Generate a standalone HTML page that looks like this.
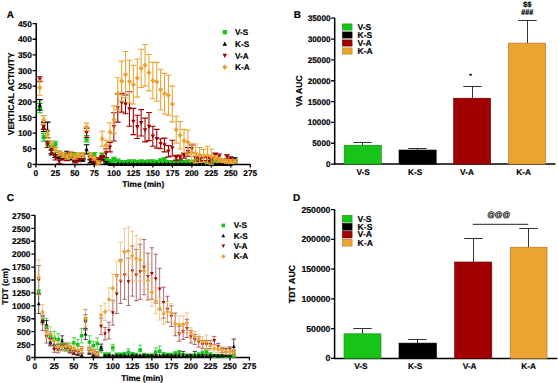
<!DOCTYPE html><html><head><meta charset="utf-8"><style>html,body{margin:0;padding:0;background:#fff;overflow:hidden;width:558px;height:383px;}svg{display:block;}</style></head><body>
<svg width="558" height="383" viewBox="0 0 558 383" style="text-rendering:geometricPrecision">
<rect width="558" height="383" fill="#ffffff"/>
<path d="M36.2 23.09V165.15" stroke="#000" stroke-width="1.5" fill="none"/>
<path d="M35.45 164.4H250.79" stroke="#000" stroke-width="1.5" fill="none"/>
<text x="31.8" y="167.6" font-size="8.3" text-anchor="end" font-family="Liberation Sans, sans-serif" stroke="#000" stroke-width="0.18"  font-weight="bold">0</text>
<text x="31.8" y="151.95" font-size="8.3" text-anchor="end" font-family="Liberation Sans, sans-serif" stroke="#000" stroke-width="0.18"  font-weight="bold">50</text>
<text x="31.8" y="136.31" font-size="8.3" text-anchor="end" font-family="Liberation Sans, sans-serif" stroke="#000" stroke-width="0.18"  font-weight="bold">100</text>
<text x="31.8" y="120.67" font-size="8.3" text-anchor="end" font-family="Liberation Sans, sans-serif" stroke="#000" stroke-width="0.18"  font-weight="bold">150</text>
<text x="31.8" y="105.02" font-size="8.3" text-anchor="end" font-family="Liberation Sans, sans-serif" stroke="#000" stroke-width="0.18"  font-weight="bold">200</text>
<text x="31.8" y="89.38" font-size="8.3" text-anchor="end" font-family="Liberation Sans, sans-serif" stroke="#000" stroke-width="0.18"  font-weight="bold">250</text>
<text x="31.8" y="73.73" font-size="8.3" text-anchor="end" font-family="Liberation Sans, sans-serif" stroke="#000" stroke-width="0.18"  font-weight="bold">300</text>
<text x="31.8" y="58.09" font-size="8.3" text-anchor="end" font-family="Liberation Sans, sans-serif" stroke="#000" stroke-width="0.18"  font-weight="bold">350</text>
<text x="31.8" y="42.44" font-size="8.3" text-anchor="end" font-family="Liberation Sans, sans-serif" stroke="#000" stroke-width="0.18"  font-weight="bold">400</text>
<text x="31.8" y="26.79" font-size="8.3" text-anchor="end" font-family="Liberation Sans, sans-serif" stroke="#000" stroke-width="0.18"  font-weight="bold">450</text>
<text x="35.9" y="176" font-size="8.3" text-anchor="middle" font-family="Liberation Sans, sans-serif" stroke="#000" stroke-width="0.18"  font-weight="bold">0</text>
<text x="55.39" y="176" font-size="8.3" text-anchor="middle" font-family="Liberation Sans, sans-serif" stroke="#000" stroke-width="0.18"  font-weight="bold">25</text>
<text x="74.88" y="176" font-size="8.3" text-anchor="middle" font-family="Liberation Sans, sans-serif" stroke="#000" stroke-width="0.18"  font-weight="bold">50</text>
<text x="94.37" y="176" font-size="8.3" text-anchor="middle" font-family="Liberation Sans, sans-serif" stroke="#000" stroke-width="0.18"  font-weight="bold">75</text>
<text x="113.86" y="176" font-size="8.3" text-anchor="middle" font-family="Liberation Sans, sans-serif" stroke="#000" stroke-width="0.18"  font-weight="bold">100</text>
<text x="133.35" y="176" font-size="8.3" text-anchor="middle" font-family="Liberation Sans, sans-serif" stroke="#000" stroke-width="0.18"  font-weight="bold">125</text>
<text x="152.84" y="176" font-size="8.3" text-anchor="middle" font-family="Liberation Sans, sans-serif" stroke="#000" stroke-width="0.18"  font-weight="bold">150</text>
<text x="172.33" y="176" font-size="8.3" text-anchor="middle" font-family="Liberation Sans, sans-serif" stroke="#000" stroke-width="0.18"  font-weight="bold">175</text>
<text x="191.82" y="176" font-size="8.3" text-anchor="middle" font-family="Liberation Sans, sans-serif" stroke="#000" stroke-width="0.18"  font-weight="bold">200</text>
<text x="211.31" y="176" font-size="8.3" text-anchor="middle" font-family="Liberation Sans, sans-serif" stroke="#000" stroke-width="0.18"  font-weight="bold">225</text>
<text x="230.8" y="176" font-size="8.3" text-anchor="middle" font-family="Liberation Sans, sans-serif" stroke="#000" stroke-width="0.18"  font-weight="bold">250</text>
<text x="250.29" y="176" font-size="8.3" text-anchor="middle" font-family="Liberation Sans, sans-serif" stroke="#000" stroke-width="0.18"  font-weight="bold">275</text>
<path d="M32.6 164.4H36.2M32.6 148.75H36.2M32.6 133.11H36.2M32.6 117.47H36.2M32.6 101.82H36.2M32.6 86.17H36.2M32.6 70.53H36.2M32.6 54.89H36.2M32.6 39.24H36.2M32.6 23.59H36.2M35.9 164.4V167.4M55.39 164.4V167.4M74.88 164.4V167.4M94.37 164.4V167.4M113.86 164.4V167.4M133.35 164.4V167.4M152.84 164.4V167.4M172.33 164.4V167.4M191.82 164.4V167.4M211.31 164.4V167.4M230.8 164.4V167.4M250.29 164.4V167.4" stroke="#000" stroke-width="1.3" fill="none"/>
<text x="143.25" y="187.3" font-size="8.3" text-anchor="middle" font-family="Liberation Sans, sans-serif" stroke="#000" stroke-width="0.18"  font-weight="bold">Time (min)</text>
<text transform="translate(13.7 94) rotate(-90)" font-size="8.45" text-anchor="middle" font-weight="bold" font-family="Liberation Sans, sans-serif" stroke="#000" stroke-width="0.18">VERTICAL ACTIVITY</text>
<text x="6.7" y="18.2" font-size="10" text-anchor="start" font-family="Liberation Sans, sans-serif" stroke="#000" stroke-width="0.18"  font-weight="bold">A</text>
<path d="M39.8 103.38V112.77M36.9 103.38H42.7M36.9 112.77H42.7M43.7 133.11V141.25M40.8 133.11H46.6M40.8 141.25H46.6M47.59 140.93V147.19M44.69 140.93H50.49M44.69 147.19H50.49M51.49 144.06V150.32M48.59 144.06H54.39M48.59 150.32H54.39M55.39 141.25V147.5M52.49 141.25H58.29M52.49 147.5H58.29M59.29 150.95V155.95M56.39 150.95H62.19M56.39 155.95H62.19M63.19 153.14V158.14M60.29 153.14H66.09M60.29 158.14H66.09M67.08 154.07V159.08M64.18 154.07H69.98M64.18 159.08H69.98M70.98 152.51V157.52M68.08 152.51H73.88M68.08 157.52H73.88M74.88 152.51V157.52M71.98 152.51H77.78M71.98 157.52H77.78M78.78 155.64V160.65M75.88 155.64H81.68M75.88 160.65H81.68M82.68 156.26V160.02M79.78 156.26H85.58M79.78 160.02H85.58M86.57 135.61V141.87M83.67 135.61H89.47M83.67 141.87H89.47M90.47 154.07V159.08M87.57 154.07H93.37M87.57 159.08H93.37M94.37 152.51V157.52M91.47 152.51H97.27M91.47 157.52H97.27M98.27 157.83V161.58M95.37 157.83H101.17M95.37 161.58H101.17M102.17 153.14V156.89M99.27 153.14H105.07M99.27 156.89H105.07M106.06 157.83V161.58M103.16 157.83H108.96M103.16 161.58H108.96M109.96 159.71V162.84M107.06 159.71H112.86M107.06 162.84H112.86M113.86 157.2V161.58M110.96 157.2H116.76M110.96 161.58H116.76M117.76 159.08V164.09M114.86 159.08H120.66M114.86 164.09H120.66M121.66 160.65V163.77M118.76 160.65H124.56M118.76 163.77H124.56M125.55 160.65V163.77M122.65 160.65H128.45M122.65 163.77H128.45M129.45 160.02V163.15M126.55 160.02H132.35M126.55 163.15H132.35M133.35 159.71V164.4M130.45 159.71H136.25M137.25 160.65V163.77M134.35 160.65H140.15M134.35 163.77H140.15M141.15 160.02V163.15M138.25 160.02H144.05M138.25 163.15H144.05M145.04 160.65V163.77M142.14 160.65H147.94M142.14 163.77H147.94M148.94 159.71V164.4M146.04 159.71H151.84M152.84 160.02V163.15M149.94 160.02H155.74M149.94 163.15H155.74M156.74 160.65V163.77M153.84 160.65H159.64M153.84 163.77H159.64M160.64 159.08V162.21M157.74 159.08H163.54M157.74 162.21H163.54M164.53 157.52V162.52M161.63 157.52H167.43M161.63 162.52H167.43M168.43 160.65V163.77M165.53 160.65H171.33M165.53 163.77H171.33M172.33 160.65V163.77M169.43 160.65H175.23M169.43 163.77H175.23M176.23 160.02V163.15M173.33 160.02H179.13M173.33 163.15H179.13M180.13 159.71V164.4M177.23 159.71H183.03M184.02 160.65V163.77M181.12 160.65H186.92M181.12 163.77H186.92M187.92 160.02V163.15M185.02 160.02H190.82M185.02 163.15H190.82M191.82 160.65V163.77M188.92 160.65H194.72M188.92 163.77H194.72M195.72 159.71V164.4M192.82 159.71H198.62M199.62 160.02V163.15M196.72 160.02H202.52M196.72 163.15H202.52M203.51 160.65V163.77M200.61 160.65H206.41M200.61 163.77H206.41M207.41 160.65V163.77M204.51 160.65H210.31M204.51 163.77H210.31M211.31 159.08V164.09M208.41 159.08H214.21M208.41 164.09H214.21M215.21 160.65V163.77M212.31 160.65H218.11M212.31 163.77H218.11M219.11 160.65V163.77M216.21 160.65H222.01M216.21 163.77H222.01M223 160.02V163.15M220.1 160.02H225.9M220.1 163.15H225.9M226.9 159.71V164.4M224 159.71H229.8M230.8 160.65V163.77M227.9 160.65H233.7M227.9 163.77H233.7M234.7 160.02V163.15M231.8 160.02H237.6M231.8 163.15H237.6" stroke="#18c418" stroke-width="1.1" fill="none"/>
<rect x="37.7" y="105.98" width="4.2" height="4.2" fill="#18c418"/>
<rect x="41.6" y="135.08" width="4.2" height="4.2" fill="#18c418"/>
<rect x="45.49" y="141.96" width="4.2" height="4.2" fill="#18c418"/>
<rect x="49.39" y="145.09" width="4.2" height="4.2" fill="#18c418"/>
<rect x="53.29" y="142.27" width="4.2" height="4.2" fill="#18c418"/>
<rect x="57.19" y="151.35" width="4.2" height="4.2" fill="#18c418"/>
<rect x="61.09" y="153.54" width="4.2" height="4.2" fill="#18c418"/>
<rect x="64.98" y="154.48" width="4.2" height="4.2" fill="#18c418"/>
<rect x="68.88" y="152.91" width="4.2" height="4.2" fill="#18c418"/>
<rect x="72.78" y="152.91" width="4.2" height="4.2" fill="#18c418"/>
<rect x="76.68" y="156.04" width="4.2" height="4.2" fill="#18c418"/>
<rect x="80.58" y="156.04" width="4.2" height="4.2" fill="#18c418"/>
<rect x="84.47" y="136.64" width="4.2" height="4.2" fill="#18c418"/>
<rect x="88.37" y="154.48" width="4.2" height="4.2" fill="#18c418"/>
<rect x="92.27" y="152.91" width="4.2" height="4.2" fill="#18c418"/>
<rect x="96.17" y="157.61" width="4.2" height="4.2" fill="#18c418"/>
<rect x="100.07" y="152.91" width="4.2" height="4.2" fill="#18c418"/>
<rect x="103.96" y="157.61" width="4.2" height="4.2" fill="#18c418"/>
<rect x="107.86" y="159.17" width="4.2" height="4.2" fill="#18c418"/>
<rect x="111.76" y="157.29" width="4.2" height="4.2" fill="#18c418"/>
<rect x="115.66" y="159.48" width="4.2" height="4.2" fill="#18c418"/>
<rect x="119.56" y="160.11" width="4.2" height="4.2" fill="#18c418"/>
<rect x="123.45" y="160.11" width="4.2" height="4.2" fill="#18c418"/>
<rect x="127.35" y="159.48" width="4.2" height="4.2" fill="#18c418"/>
<rect x="131.25" y="160.11" width="4.2" height="4.2" fill="#18c418"/>
<rect x="135.15" y="160.11" width="4.2" height="4.2" fill="#18c418"/>
<rect x="139.05" y="159.48" width="4.2" height="4.2" fill="#18c418"/>
<rect x="142.94" y="160.11" width="4.2" height="4.2" fill="#18c418"/>
<rect x="146.84" y="160.11" width="4.2" height="4.2" fill="#18c418"/>
<rect x="150.74" y="159.48" width="4.2" height="4.2" fill="#18c418"/>
<rect x="154.64" y="160.11" width="4.2" height="4.2" fill="#18c418"/>
<rect x="158.54" y="158.55" width="4.2" height="4.2" fill="#18c418"/>
<rect x="162.43" y="157.92" width="4.2" height="4.2" fill="#18c418"/>
<rect x="166.33" y="160.11" width="4.2" height="4.2" fill="#18c418"/>
<rect x="170.23" y="160.11" width="4.2" height="4.2" fill="#18c418"/>
<rect x="174.13" y="159.48" width="4.2" height="4.2" fill="#18c418"/>
<rect x="178.03" y="160.11" width="4.2" height="4.2" fill="#18c418"/>
<rect x="181.92" y="160.11" width="4.2" height="4.2" fill="#18c418"/>
<rect x="185.82" y="159.48" width="4.2" height="4.2" fill="#18c418"/>
<rect x="189.72" y="160.11" width="4.2" height="4.2" fill="#18c418"/>
<rect x="193.62" y="160.11" width="4.2" height="4.2" fill="#18c418"/>
<rect x="197.52" y="159.48" width="4.2" height="4.2" fill="#18c418"/>
<rect x="201.41" y="160.11" width="4.2" height="4.2" fill="#18c418"/>
<rect x="205.31" y="160.11" width="4.2" height="4.2" fill="#18c418"/>
<rect x="209.21" y="159.48" width="4.2" height="4.2" fill="#18c418"/>
<rect x="213.11" y="160.11" width="4.2" height="4.2" fill="#18c418"/>
<rect x="217.01" y="160.11" width="4.2" height="4.2" fill="#18c418"/>
<rect x="220.9" y="159.48" width="4.2" height="4.2" fill="#18c418"/>
<rect x="224.8" y="160.11" width="4.2" height="4.2" fill="#18c418"/>
<rect x="228.7" y="160.11" width="4.2" height="4.2" fill="#18c418"/>
<rect x="232.6" y="159.48" width="4.2" height="4.2" fill="#18c418"/>
<path d="M39.8 99.63V110.27M36.9 99.63H42.7M36.9 110.27H42.7M43.7 122.16V131.55M40.8 122.16H46.6M40.8 131.55H46.6M47.59 122.16V137.8M44.69 122.16H50.49M44.69 137.8H50.49M51.49 150.01V155.01M48.59 150.01H54.39M48.59 155.01H54.39M55.39 152.51V157.52M52.49 152.51H58.29M52.49 157.52H58.29M59.29 154.7V158.45M56.39 154.7H62.19M56.39 158.45H62.19M63.19 156.26V160.02M60.29 156.26H66.09M60.29 160.02H66.09M67.08 151.26V158.77M64.18 151.26H69.98M64.18 158.77H69.98M70.98 156.26V160.02M68.08 156.26H73.88M68.08 160.02H73.88M74.88 158.14V161.27M71.98 158.14H77.78M71.98 161.27H77.78M78.78 158.14V161.27M75.88 158.14H81.68M75.88 161.27H81.68M82.68 158.14V161.27M79.78 158.14H85.58M79.78 161.27H85.58M86.57 144.69V154.07M83.67 144.69H89.47M83.67 154.07H89.47M90.47 159.71V162.84M87.57 159.71H93.37M87.57 162.84H93.37M94.37 161.9V163.77M91.47 161.9H97.27M91.47 163.77H97.27M98.27 161.9V163.77M95.37 161.9H101.17M95.37 163.77H101.17M102.17 156.58V159.71M99.27 156.58H105.07M99.27 159.71H105.07M106.06 161.9V163.77M103.16 161.9H108.96M103.16 163.77H108.96M109.96 163.87V164.4M107.06 163.87H112.86M113.86 163.87V164.4M110.96 163.87H116.76M117.76 163.87V164.4M114.86 163.87H120.66M121.66 163.87V164.4M118.76 163.87H124.56M125.55 163.87V164.4M122.65 163.87H128.45M129.45 163.87V164.4M126.55 163.87H132.35M133.35 163.87V164.4M130.45 163.87H136.25M137.25 163.87V164.4M134.35 163.87H140.15M141.15 163.87V164.4M138.25 163.87H144.05M145.04 163.87V164.4M142.14 163.87H147.94M148.94 163.87V164.4M146.04 163.87H151.84M152.84 163.87V164.4M149.94 163.87H155.74M156.74 163.87V164.4M153.84 163.87H159.64M160.64 163.87V164.4M157.74 163.87H163.54M164.53 163.87V164.4M161.63 163.87H167.43M168.43 163.87V164.4M165.53 163.87H171.33M172.33 163.87V164.4M169.43 163.87H175.23M176.23 163.87V164.4M173.33 163.87H179.13M180.13 163.87V164.4M177.23 163.87H183.03M184.02 163.87V164.4M181.12 163.87H186.92M187.92 163.87V164.4M185.02 163.87H190.82M191.82 163.87V164.4M188.92 163.87H194.72M195.72 163.87V164.4M192.82 163.87H198.62M199.62 163.87V164.4M196.72 163.87H202.52M203.51 163.87V164.4M200.61 163.87H206.41M207.41 163.87V164.4M204.51 163.87H210.31M211.31 163.87V164.4M208.41 163.87H214.21M215.21 163.87V164.4M212.31 163.87H218.11M219.11 163.87V164.4M216.21 163.87H222.01M223 163.87V164.4M220.1 163.87H225.9M226.9 163.87V164.4M224 163.87H229.8M230.8 163.87V164.4M227.9 163.87H233.7M234.7 157.83V160.96M231.8 157.83H237.6M231.8 160.96H237.6" stroke="#000000" stroke-width="1.1" fill="none"/>
<path d="M39.8 102.64L42 106.73L37.59 106.73Z" fill="#000000"/>
<path d="M43.7 124.54L45.9 128.64L41.49 128.64Z" fill="#000000"/>
<path d="M47.59 127.67L49.8 131.77L45.39 131.77Z" fill="#000000"/>
<path d="M51.49 150.2L53.7 154.29L49.29 154.29Z" fill="#000000"/>
<path d="M55.39 152.7L57.59 156.8L53.19 156.8Z" fill="#000000"/>
<path d="M59.29 154.27L61.49 158.36L57.08 158.36Z" fill="#000000"/>
<path d="M63.19 155.83L65.39 159.93L60.98 159.93Z" fill="#000000"/>
<path d="M67.08 152.7L69.29 156.8L64.88 156.8Z" fill="#000000"/>
<path d="M70.98 155.83L73.19 159.93L68.78 159.93Z" fill="#000000"/>
<path d="M74.88 157.4L77.08 161.49L72.67 161.49Z" fill="#000000"/>
<path d="M78.78 157.4L80.98 161.49L76.57 161.49Z" fill="#000000"/>
<path d="M82.68 157.4L84.88 161.49L80.47 161.49Z" fill="#000000"/>
<path d="M86.57 147.07L88.78 151.17L84.37 151.17Z" fill="#000000"/>
<path d="M90.47 158.96L92.68 163.06L88.27 163.06Z" fill="#000000"/>
<path d="M94.37 160.53L96.58 164.62L92.17 164.62Z" fill="#000000"/>
<path d="M98.27 160.53L100.47 164.62L96.06 164.62Z" fill="#000000"/>
<path d="M102.17 155.83L104.37 159.93L99.96 159.93Z" fill="#000000"/>
<path d="M106.06 160.53L108.27 164.62L103.86 164.62Z" fill="#000000"/>
<path d="M109.96 161.87L112.17 165.97L107.76 165.97Z" fill="#000000"/>
<path d="M113.86 161.87L116.06 165.97L111.65 165.97Z" fill="#000000"/>
<path d="M117.76 161.87L119.96 165.97L115.55 165.97Z" fill="#000000"/>
<path d="M121.66 161.87L123.86 165.97L119.45 165.97Z" fill="#000000"/>
<path d="M125.55 161.87L127.76 165.97L123.35 165.97Z" fill="#000000"/>
<path d="M129.45 161.87L131.66 165.97L127.25 165.97Z" fill="#000000"/>
<path d="M133.35 161.87L135.56 165.97L131.14 165.97Z" fill="#000000"/>
<path d="M137.25 161.87L139.45 165.97L135.04 165.97Z" fill="#000000"/>
<path d="M141.15 161.87L143.35 165.97L138.94 165.97Z" fill="#000000"/>
<path d="M145.04 161.87L147.25 165.97L142.84 165.97Z" fill="#000000"/>
<path d="M148.94 161.87L151.15 165.97L146.74 165.97Z" fill="#000000"/>
<path d="M152.84 161.87L155.05 165.97L150.63 165.97Z" fill="#000000"/>
<path d="M156.74 161.87L158.94 165.97L154.53 165.97Z" fill="#000000"/>
<path d="M160.64 161.87L162.84 165.97L158.43 165.97Z" fill="#000000"/>
<path d="M164.53 161.87L166.74 165.97L162.33 165.97Z" fill="#000000"/>
<path d="M168.43 161.87L170.64 165.97L166.23 165.97Z" fill="#000000"/>
<path d="M172.33 161.87L174.54 165.97L170.12 165.97Z" fill="#000000"/>
<path d="M176.23 161.87L178.43 165.97L174.02 165.97Z" fill="#000000"/>
<path d="M180.13 161.87L182.33 165.97L177.92 165.97Z" fill="#000000"/>
<path d="M184.02 161.87L186.23 165.97L181.82 165.97Z" fill="#000000"/>
<path d="M187.92 161.87L190.13 165.97L185.72 165.97Z" fill="#000000"/>
<path d="M191.82 161.87L194.03 165.97L189.61 165.97Z" fill="#000000"/>
<path d="M195.72 161.87L197.92 165.97L193.51 165.97Z" fill="#000000"/>
<path d="M199.62 161.87L201.82 165.97L197.41 165.97Z" fill="#000000"/>
<path d="M203.51 161.87L205.72 165.97L201.31 165.97Z" fill="#000000"/>
<path d="M207.41 161.87L209.62 165.97L205.21 165.97Z" fill="#000000"/>
<path d="M211.31 161.87L213.52 165.97L209.1 165.97Z" fill="#000000"/>
<path d="M215.21 161.87L217.41 165.97L213 165.97Z" fill="#000000"/>
<path d="M219.11 161.87L221.31 165.97L216.9 165.97Z" fill="#000000"/>
<path d="M223 161.87L225.21 165.97L220.8 165.97Z" fill="#000000"/>
<path d="M226.9 161.87L229.11 165.97L224.7 165.97Z" fill="#000000"/>
<path d="M230.8 161.87L233 165.97L228.59 165.97Z" fill="#000000"/>
<path d="M234.7 157.08L236.9 161.18L232.49 161.18Z" fill="#000000"/>
<path d="M39.8 76.79V81.79M36.9 76.79H42.7M36.9 81.79H42.7M43.7 124.35V129.36M40.8 124.35H46.6M40.8 129.36H46.6M47.59 141.25V147.5M44.69 141.25H50.49M44.69 147.5H50.49M51.49 147.19V153.45M48.59 147.19H54.39M48.59 153.45H54.39M55.39 155.01V160.02M52.49 155.01H58.29M52.49 160.02H58.29M59.29 159.71V163.46M56.39 159.71H62.19M56.39 163.46H62.19M63.19 154.07V159.08M60.29 154.07H66.09M60.29 159.08H66.09M67.08 155.64V160.65M64.18 155.64H69.98M64.18 160.65H69.98M70.98 152.2V155.95M68.08 152.2H73.88M68.08 155.95H73.88M74.88 159.08V162.84M71.98 159.08H77.78M71.98 162.84H77.78M78.78 157.83V161.58M75.88 157.83H81.68M75.88 161.58H81.68M82.68 154.07V159.08M79.78 154.07H85.58M79.78 159.08H85.58M86.57 128.1V137.49M83.67 128.1H89.47M83.67 137.49H89.47M90.47 156.26V160.02M87.57 156.26H93.37M87.57 160.02H93.37M94.37 159.71V162.84M91.47 159.71H97.27M91.47 162.84H97.27M98.27 157.83V161.58M95.37 157.83H101.17M95.37 161.58H101.17M102.17 155.64V160.65M99.27 155.64H105.07M99.27 160.65H105.07M106.06 148.75V157.52M103.16 148.75H108.96M103.16 157.52H108.96M109.96 142.5V151.88M107.06 142.5H112.86M107.06 151.88H112.86M113.86 112.77V140.93M110.96 112.77H116.76M110.96 140.93H116.76M117.76 94V122.16M114.86 94H120.66M114.86 122.16H120.66M121.66 93.37V112.15M118.76 93.37H124.56M118.76 112.15H124.56M125.55 94.94V113.71M122.65 94.94H128.45M122.65 113.71H128.45M129.45 91.81V126.23M126.55 91.81H132.35M126.55 126.23H132.35M133.35 108.39V134.67M130.45 108.39H136.25M130.45 134.67H136.25M137.25 115.27V138.43M134.35 115.27H140.15M134.35 138.43H140.15M141.15 109.64V135.93M138.25 109.64H144.05M138.25 135.93H144.05M145.04 118.09V141.87M142.14 118.09H147.94M142.14 141.87H147.94M148.94 112.46V140.62M146.04 112.46H151.84M146.04 140.62H151.84M152.84 126.23V146.25M149.94 126.23H155.74M149.94 146.25H155.74M156.74 129.36V148.13M153.84 129.36H159.64M153.84 148.13H159.64M160.64 138.74V148.75M157.74 138.74H163.54M157.74 148.75H163.54M164.53 138.12V151.88M161.63 138.12H167.43M161.63 151.88H167.43M168.43 145.63V156.89M165.53 145.63H171.33M165.53 156.89H171.33M172.33 140.31V155.95M169.43 140.31H175.23M169.43 155.95H175.23M176.23 155.33V160.33M173.33 155.33H179.13M173.33 160.33H179.13M180.13 155.01V160.02M177.23 155.01H183.03M177.23 160.02H183.03M184.02 153.14V158.14M181.12 153.14H186.92M181.12 158.14H186.92M187.92 147.5V156.26M185.02 147.5H190.82M185.02 156.26H190.82M191.82 145V152.51M188.92 145H194.72M188.92 152.51H194.72M195.72 156.26V161.27M192.82 156.26H198.62M192.82 161.27H198.62M199.62 157.83V161.58M196.72 157.83H202.52M196.72 161.58H202.52M203.51 155.64V160.65M200.61 155.64H206.41M200.61 160.65H206.41M207.41 156.89V160.65M204.51 156.89H210.31M204.51 160.65H210.31M211.31 157.83V161.58M208.41 157.83H214.21M208.41 161.58H214.21M215.21 153.14V158.14M212.31 153.14H218.11M212.31 158.14H218.11M219.11 154.07V159.08M216.21 154.07H222.01M216.21 159.08H222.01M223 159.71V162.84M220.1 159.71H225.9M220.1 162.84H225.9M226.9 154.7V158.45M224 154.7H229.8M224 158.45H229.8M230.8 156.89V160.65M227.9 156.89H233.7M227.9 160.65H233.7M234.7 159.71V162.84M231.8 159.71H237.6M231.8 162.84H237.6" stroke="#a20000" stroke-width="1.1" fill="none"/>
<path d="M39.8 81.6L42 77.51L37.59 77.51Z" fill="#a20000"/>
<path d="M43.7 129.16L45.9 125.07L41.49 125.07Z" fill="#a20000"/>
<path d="M47.59 146.68L49.8 142.59L45.39 142.59Z" fill="#a20000"/>
<path d="M51.49 152.63L53.7 148.53L49.29 148.53Z" fill="#a20000"/>
<path d="M55.39 159.83L57.59 155.73L53.19 155.73Z" fill="#a20000"/>
<path d="M59.29 163.89L61.49 159.8L57.08 159.8Z" fill="#a20000"/>
<path d="M63.19 158.89L65.39 154.79L60.98 154.79Z" fill="#a20000"/>
<path d="M67.08 160.45L69.29 156.36L64.88 156.36Z" fill="#a20000"/>
<path d="M70.98 156.38L73.19 152.29L68.78 152.29Z" fill="#a20000"/>
<path d="M74.88 163.27L77.08 159.17L72.67 159.17Z" fill="#a20000"/>
<path d="M78.78 162.02L80.98 157.92L76.57 157.92Z" fill="#a20000"/>
<path d="M82.68 158.89L84.88 154.79L80.47 154.79Z" fill="#a20000"/>
<path d="M86.57 135.11L88.78 131.01L84.37 131.01Z" fill="#a20000"/>
<path d="M90.47 160.45L92.68 156.36L88.27 156.36Z" fill="#a20000"/>
<path d="M94.37 163.58L96.58 159.49L92.17 159.49Z" fill="#a20000"/>
<path d="M98.27 162.02L100.47 157.92L96.06 157.92Z" fill="#a20000"/>
<path d="M102.17 160.45L104.37 156.36L99.96 156.36Z" fill="#a20000"/>
<path d="M106.06 155.45L108.27 151.35L103.86 151.35Z" fill="#a20000"/>
<path d="M109.96 149.5L112.17 145.41L107.76 145.41Z" fill="#a20000"/>
<path d="M113.86 129.16L116.06 125.07L111.65 125.07Z" fill="#a20000"/>
<path d="M117.76 110.39L119.96 106.29L115.55 106.29Z" fill="#a20000"/>
<path d="M121.66 105.07L123.86 100.97L119.45 100.97Z" fill="#a20000"/>
<path d="M125.55 106.63L127.76 102.54L123.35 102.54Z" fill="#a20000"/>
<path d="M129.45 111.33L131.66 107.23L127.25 107.23Z" fill="#a20000"/>
<path d="M133.35 123.84L135.56 119.75L131.14 119.75Z" fill="#a20000"/>
<path d="M137.25 129.16L139.45 125.07L135.04 125.07Z" fill="#a20000"/>
<path d="M141.15 125.09L143.35 121L138.94 121Z" fill="#a20000"/>
<path d="M145.04 132.29L147.25 128.2L142.84 128.2Z" fill="#a20000"/>
<path d="M148.94 128.85L151.15 124.75L146.74 124.75Z" fill="#a20000"/>
<path d="M152.84 138.55L155.05 134.45L150.63 134.45Z" fill="#a20000"/>
<path d="M156.74 141.05L158.94 136.96L154.53 136.96Z" fill="#a20000"/>
<path d="M160.64 146.06L162.84 141.96L158.43 141.96Z" fill="#a20000"/>
<path d="M164.53 147.31L166.74 143.22L162.33 143.22Z" fill="#a20000"/>
<path d="M168.43 153.57L170.64 149.47L166.23 149.47Z" fill="#a20000"/>
<path d="M172.33 150.44L174.54 146.34L170.12 146.34Z" fill="#a20000"/>
<path d="M176.23 160.14L178.43 156.04L174.02 156.04Z" fill="#a20000"/>
<path d="M180.13 159.83L182.33 155.73L177.92 155.73Z" fill="#a20000"/>
<path d="M184.02 157.95L186.23 153.85L181.82 153.85Z" fill="#a20000"/>
<path d="M187.92 154.19L190.13 150.1L185.72 150.1Z" fill="#a20000"/>
<path d="M191.82 151.06L194.03 146.97L189.61 146.97Z" fill="#a20000"/>
<path d="M195.72 161.08L197.92 156.98L193.51 156.98Z" fill="#a20000"/>
<path d="M199.62 162.02L201.82 157.92L197.41 157.92Z" fill="#a20000"/>
<path d="M203.51 160.45L205.72 156.36L201.31 156.36Z" fill="#a20000"/>
<path d="M207.41 161.08L209.62 156.98L205.21 156.98Z" fill="#a20000"/>
<path d="M211.31 162.02L213.52 157.92L209.1 157.92Z" fill="#a20000"/>
<path d="M215.21 157.95L217.41 153.85L213 153.85Z" fill="#a20000"/>
<path d="M219.11 158.89L221.31 154.79L216.9 154.79Z" fill="#a20000"/>
<path d="M223 163.58L225.21 159.49L220.8 159.49Z" fill="#a20000"/>
<path d="M226.9 158.89L229.11 154.79L224.7 154.79Z" fill="#a20000"/>
<path d="M230.8 161.08L233 156.98L228.59 156.98Z" fill="#a20000"/>
<path d="M234.7 163.58L236.9 159.49L232.49 159.49Z" fill="#a20000"/>
<path d="M39.8 80.23V95.25M36.9 80.23H42.7M36.9 95.25H42.7M43.7 115.59V124.35M40.8 115.59H46.6M40.8 124.35H46.6M47.59 130.61V138.12M44.69 130.61H50.49M44.69 138.12H50.49M51.49 140.93V147.19M48.59 140.93H54.39M48.59 147.19H54.39M55.39 147.19V152.2M52.49 147.19H58.29M52.49 152.2H58.29M59.29 150.95V155.95M56.39 150.95H62.19M56.39 155.95H62.19M63.19 152.51V157.52M60.29 152.51H66.09M60.29 157.52H66.09M67.08 154.07V159.08M64.18 154.07H69.98M64.18 159.08H69.98M70.98 151.88V158.14M68.08 151.88H73.88M68.08 158.14H73.88M74.88 154.07V159.08M71.98 154.07H77.78M71.98 159.08H77.78M78.78 152.51V157.52M75.88 152.51H81.68M75.88 157.52H81.68M82.68 152.51V157.52M79.78 152.51H85.58M79.78 157.52H85.58M86.57 123.1V130.61M83.67 123.1H89.47M83.67 130.61H89.47M90.47 152.51V157.52M87.57 152.51H93.37M87.57 157.52H93.37M94.37 156.26V160.02M91.47 156.26H97.27M91.47 160.02H97.27M98.27 160.96V164.09M95.37 160.96H101.17M95.37 164.09H101.17M102.17 131.23V146.25M99.27 131.23H105.07M99.27 146.25H105.07M106.06 140.31V149.69M103.16 140.31H108.96M103.16 149.69H108.96M109.96 122.78V141.56M107.06 122.78H112.86M107.06 141.56H112.86M113.86 105.89V133.42M110.96 105.89H116.76M110.96 133.42H116.76M117.76 77.73V109.64M114.86 77.73H120.66M114.86 109.64H120.66M121.66 61.14V101.19M118.76 61.14H124.56M118.76 101.19H124.56M125.55 51.44V97.75M122.65 51.44H128.45M122.65 97.75H128.45M129.45 60.2V102.76M126.55 60.2H132.35M126.55 102.76H132.35M133.35 65.21V104.01M130.45 65.21H136.25M130.45 104.01H136.25M137.25 58.95V97.13M134.35 58.95H140.15M134.35 97.13H140.15M141.15 49.25V87.43M138.25 49.25H144.05M138.25 87.43H144.05M145.04 44.56V85.86M142.14 44.56H147.94M142.14 85.86H147.94M148.94 54.57V90.87M146.04 54.57H151.84M146.04 90.87H151.84M152.84 62.39V98.69M149.94 62.39H155.74M149.94 98.69H155.74M156.74 62.39V101.19M153.84 62.39H159.64M153.84 101.19H159.64M160.64 69.28V109.96M157.74 69.28H163.54M157.74 109.96H163.54M164.53 73.35V114.02M161.63 73.35H167.43M161.63 114.02H167.43M168.43 75.22V115.27M165.53 75.22H171.33M165.53 115.27H171.33M172.33 86.17V121.85M169.43 86.17H175.23M169.43 121.85H175.23M176.23 116.21V143.12M173.33 116.21H179.13M173.33 143.12H179.13M180.13 121.53V149.07M177.23 121.53H183.03M177.23 149.07H183.03M184.02 129.36V152.51M181.12 129.36H186.92M181.12 152.51H186.92M187.92 129.98V154.39M185.02 129.98H190.82M185.02 154.39H190.82M191.82 143.75V161.27M188.92 143.75H194.72M188.92 161.27H194.72M195.72 144.06V162.84M192.82 144.06H198.62M192.82 162.84H198.62M199.62 147.5V162.52M196.72 147.5H202.52M196.72 162.52H202.52M203.51 149.38V161.9M200.61 149.38H206.41M200.61 161.9H206.41M207.41 146.25V163.77M204.51 146.25H210.31M204.51 163.77H210.31M211.31 149.07V164.09M208.41 149.07H214.21M208.41 164.09H214.21M215.21 155.64V161.9M212.31 155.64H218.11M212.31 161.9H218.11M219.11 157.2V162.21M216.21 157.2H222.01M216.21 162.21H222.01M223 158.77V162.52M220.1 158.77H225.9M220.1 162.52H225.9M226.9 159.39V163.15M224 159.39H229.8M224 163.15H229.8M230.8 159.71V163.46M227.9 159.71H233.7M227.9 163.46H233.7M234.7 159.71V162.84M231.8 159.71H237.6M231.8 162.84H237.6" stroke="#e9a535" stroke-width="1.1" fill="none"/>
<path d="M39.8 85.11L42.42 87.74L39.8 90.36L37.17 87.74Z" fill="#e9a431"/>
<path d="M43.7 117.34L46.32 119.97L43.7 122.59L41.07 119.97Z" fill="#e9a431"/>
<path d="M47.59 131.74L50.22 134.36L47.59 136.99L44.97 134.36Z" fill="#e9a431"/>
<path d="M51.49 141.44L54.12 144.06L51.49 146.69L48.87 144.06Z" fill="#e9a431"/>
<path d="M55.39 147.07L58.02 149.69L55.39 152.32L52.77 149.69Z" fill="#e9a431"/>
<path d="M59.29 150.82L61.91 153.45L59.29 156.07L56.66 153.45Z" fill="#e9a431"/>
<path d="M63.19 152.39L65.81 155.01L63.19 157.64L60.56 155.01Z" fill="#e9a431"/>
<path d="M67.08 153.95L69.71 156.58L67.08 159.2L64.46 156.58Z" fill="#e9a431"/>
<path d="M70.98 152.39L73.61 155.01L70.98 157.64L68.36 155.01Z" fill="#e9a431"/>
<path d="M74.88 153.95L77.5 156.58L74.88 159.2L72.25 156.58Z" fill="#e9a431"/>
<path d="M78.78 152.39L81.4 155.01L78.78 157.64L76.15 155.01Z" fill="#e9a431"/>
<path d="M82.68 152.39L85.3 155.01L82.68 157.64L80.05 155.01Z" fill="#e9a431"/>
<path d="M86.57 124.23L89.2 126.85L86.57 129.48L83.95 126.85Z" fill="#e9a431"/>
<path d="M90.47 152.39L93.1 155.01L90.47 157.64L87.85 155.01Z" fill="#e9a431"/>
<path d="M94.37 155.52L97 158.14L94.37 160.77L91.75 158.14Z" fill="#e9a431"/>
<path d="M98.27 159.9L100.89 162.52L98.27 165.15L95.64 162.52Z" fill="#e9a431"/>
<path d="M102.17 136.12L104.79 138.74L102.17 141.37L99.54 138.74Z" fill="#e9a431"/>
<path d="M106.06 142.38L108.69 145L106.06 147.63L103.44 145Z" fill="#e9a431"/>
<path d="M109.96 129.55L112.59 132.17L109.96 134.8L107.34 132.17Z" fill="#e9a431"/>
<path d="M113.86 117.03L116.48 119.66L113.86 122.28L111.23 119.66Z" fill="#e9a431"/>
<path d="M117.76 91.06L120.38 93.68L117.76 96.31L115.13 93.68Z" fill="#e9a431"/>
<path d="M121.66 78.54L124.28 81.17L121.66 83.79L119.03 81.17Z" fill="#e9a431"/>
<path d="M125.55 71.97L128.18 74.6L125.55 77.22L122.93 74.6Z" fill="#e9a431"/>
<path d="M129.45 78.86L132.08 81.48L129.45 84.11L126.83 81.48Z" fill="#e9a431"/>
<path d="M133.35 81.99L135.97 84.61L133.35 87.24L130.72 84.61Z" fill="#e9a431"/>
<path d="M137.25 75.41L139.87 78.04L137.25 80.66L134.62 78.04Z" fill="#e9a431"/>
<path d="M141.15 65.71L143.77 68.34L141.15 70.96L138.52 68.34Z" fill="#e9a431"/>
<path d="M145.04 62.59L147.67 65.21L145.04 67.84L142.42 65.21Z" fill="#e9a431"/>
<path d="M148.94 70.1L151.57 72.72L148.94 75.35L146.32 72.72Z" fill="#e9a431"/>
<path d="M152.84 77.92L155.47 80.54L152.84 83.17L150.22 80.54Z" fill="#e9a431"/>
<path d="M156.74 79.17L159.36 81.79L156.74 84.42L154.11 81.79Z" fill="#e9a431"/>
<path d="M160.64 86.99L163.26 89.62L160.64 92.24L158.01 89.62Z" fill="#e9a431"/>
<path d="M164.53 91.06L167.16 93.68L164.53 96.31L161.91 93.68Z" fill="#e9a431"/>
<path d="M168.43 92.62L171.06 95.25L168.43 97.87L165.81 95.25Z" fill="#e9a431"/>
<path d="M172.33 101.39L174.96 104.01L172.33 106.64L169.71 104.01Z" fill="#e9a431"/>
<path d="M176.23 127.04L178.85 129.67L176.23 132.29L173.6 129.67Z" fill="#e9a431"/>
<path d="M180.13 132.68L182.75 135.3L180.13 137.93L177.5 135.3Z" fill="#e9a431"/>
<path d="M184.02 138.31L186.65 140.93L184.02 143.56L181.4 140.93Z" fill="#e9a431"/>
<path d="M187.92 139.56L190.55 142.18L187.92 144.81L185.3 142.18Z" fill="#e9a431"/>
<path d="M191.82 149.88L194.44 152.51L191.82 155.13L189.19 152.51Z" fill="#e9a431"/>
<path d="M195.72 150.82L198.34 153.45L195.72 156.07L193.09 153.45Z" fill="#e9a431"/>
<path d="M199.62 152.39L202.24 155.01L199.62 157.64L196.99 155.01Z" fill="#e9a431"/>
<path d="M203.51 153.01L206.14 155.64L203.51 158.26L200.89 155.64Z" fill="#e9a431"/>
<path d="M207.41 152.39L210.04 155.01L207.41 157.64L204.79 155.01Z" fill="#e9a431"/>
<path d="M211.31 153.95L213.94 156.58L211.31 159.2L208.69 156.58Z" fill="#e9a431"/>
<path d="M215.21 156.14L217.83 158.77L215.21 161.39L212.58 158.77Z" fill="#e9a431"/>
<path d="M219.11 157.08L221.73 159.71L219.11 162.33L216.48 159.71Z" fill="#e9a431"/>
<path d="M223 158.02L225.63 160.65L223 163.27L220.38 160.65Z" fill="#e9a431"/>
<path d="M226.9 158.65L229.53 161.27L226.9 163.9L224.28 161.27Z" fill="#e9a431"/>
<path d="M230.8 158.96L233.42 161.58L230.8 164.21L228.17 161.58Z" fill="#e9a431"/>
<path d="M234.7 158.65L237.32 161.27L234.7 163.9L232.07 161.27Z" fill="#e9a431"/>
<rect x="222.65" y="30.05" width="4.3" height="4.3" fill="#18c418"/>
<text x="235" y="35.1" font-size="8.2" text-anchor="start" font-family="Liberation Sans, sans-serif" stroke="#000" stroke-width="0.18"  font-weight="bold">V-S</text>
<path d="M224.8 41.54L227.06 45.73L222.54 45.73Z" fill="#000000"/>
<text x="235" y="46.8" font-size="8.2" text-anchor="start" font-family="Liberation Sans, sans-serif" stroke="#000" stroke-width="0.18"  font-weight="bold">K-S</text>
<path d="M224.8 57.97L227.06 53.77L222.54 53.77Z" fill="#a20000"/>
<text x="235" y="58.5" font-size="8.2" text-anchor="start" font-family="Liberation Sans, sans-serif" stroke="#000" stroke-width="0.18"  font-weight="bold">V-A</text>
<path d="M224.8 64.61L227.49 67.3L224.8 69.99L222.11 67.3Z" fill="#e9a431"/>
<text x="235" y="70.2" font-size="8.2" text-anchor="start" font-family="Liberation Sans, sans-serif" stroke="#000" stroke-width="0.18"  font-weight="bold">K-A</text>
<path d="M34.9 214.91V358.25" stroke="#000" stroke-width="1.5" fill="none"/>
<path d="M34.15 357.5H249.91" stroke="#000" stroke-width="1.5" fill="none"/>
<text x="30.5" y="360.7" font-size="8.3" text-anchor="end" font-family="Liberation Sans, sans-serif" stroke="#000" stroke-width="0.18"  font-weight="bold">0</text>
<text x="30.5" y="347.78" font-size="8.3" text-anchor="end" font-family="Liberation Sans, sans-serif" stroke="#000" stroke-width="0.18"  font-weight="bold">250</text>
<text x="30.5" y="334.87" font-size="8.3" text-anchor="end" font-family="Liberation Sans, sans-serif" stroke="#000" stroke-width="0.18"  font-weight="bold">500</text>
<text x="30.5" y="321.95" font-size="8.3" text-anchor="end" font-family="Liberation Sans, sans-serif" stroke="#000" stroke-width="0.18"  font-weight="bold">750</text>
<text x="30.5" y="309.03" font-size="8.3" text-anchor="end" font-family="Liberation Sans, sans-serif" stroke="#000" stroke-width="0.18"  font-weight="bold">1000</text>
<text x="30.5" y="296.11" font-size="8.3" text-anchor="end" font-family="Liberation Sans, sans-serif" stroke="#000" stroke-width="0.18"  font-weight="bold">1250</text>
<text x="30.5" y="283.19" font-size="8.3" text-anchor="end" font-family="Liberation Sans, sans-serif" stroke="#000" stroke-width="0.18"  font-weight="bold">1500</text>
<text x="30.5" y="270.28" font-size="8.3" text-anchor="end" font-family="Liberation Sans, sans-serif" stroke="#000" stroke-width="0.18"  font-weight="bold">1750</text>
<text x="30.5" y="257.36" font-size="8.3" text-anchor="end" font-family="Liberation Sans, sans-serif" stroke="#000" stroke-width="0.18"  font-weight="bold">2000</text>
<text x="30.5" y="244.44" font-size="8.3" text-anchor="end" font-family="Liberation Sans, sans-serif" stroke="#000" stroke-width="0.18"  font-weight="bold">2250</text>
<text x="30.5" y="231.52" font-size="8.3" text-anchor="end" font-family="Liberation Sans, sans-serif" stroke="#000" stroke-width="0.18"  font-weight="bold">2500</text>
<text x="30.5" y="218.61" font-size="8.3" text-anchor="end" font-family="Liberation Sans, sans-serif" stroke="#000" stroke-width="0.18"  font-weight="bold">2750</text>
<text x="34.8" y="369" font-size="8.3" text-anchor="middle" font-family="Liberation Sans, sans-serif" stroke="#000" stroke-width="0.18"  font-weight="bold">0</text>
<text x="54.31" y="369" font-size="8.3" text-anchor="middle" font-family="Liberation Sans, sans-serif" stroke="#000" stroke-width="0.18"  font-weight="bold">25</text>
<text x="73.82" y="369" font-size="8.3" text-anchor="middle" font-family="Liberation Sans, sans-serif" stroke="#000" stroke-width="0.18"  font-weight="bold">50</text>
<text x="93.33" y="369" font-size="8.3" text-anchor="middle" font-family="Liberation Sans, sans-serif" stroke="#000" stroke-width="0.18"  font-weight="bold">75</text>
<text x="112.84" y="369" font-size="8.3" text-anchor="middle" font-family="Liberation Sans, sans-serif" stroke="#000" stroke-width="0.18"  font-weight="bold">100</text>
<text x="132.35" y="369" font-size="8.3" text-anchor="middle" font-family="Liberation Sans, sans-serif" stroke="#000" stroke-width="0.18"  font-weight="bold">125</text>
<text x="151.86" y="369" font-size="8.3" text-anchor="middle" font-family="Liberation Sans, sans-serif" stroke="#000" stroke-width="0.18"  font-weight="bold">150</text>
<text x="171.37" y="369" font-size="8.3" text-anchor="middle" font-family="Liberation Sans, sans-serif" stroke="#000" stroke-width="0.18"  font-weight="bold">175</text>
<text x="190.88" y="369" font-size="8.3" text-anchor="middle" font-family="Liberation Sans, sans-serif" stroke="#000" stroke-width="0.18"  font-weight="bold">200</text>
<text x="210.39" y="369" font-size="8.3" text-anchor="middle" font-family="Liberation Sans, sans-serif" stroke="#000" stroke-width="0.18"  font-weight="bold">225</text>
<text x="229.9" y="369" font-size="8.3" text-anchor="middle" font-family="Liberation Sans, sans-serif" stroke="#000" stroke-width="0.18"  font-weight="bold">250</text>
<text x="249.41" y="369" font-size="8.3" text-anchor="middle" font-family="Liberation Sans, sans-serif" stroke="#000" stroke-width="0.18"  font-weight="bold">275</text>
<path d="M31.3 357.5H34.9M31.3 344.58H34.9M31.3 331.67H34.9M31.3 318.75H34.9M31.3 305.83H34.9M31.3 292.91H34.9M31.3 280H34.9M31.3 267.08H34.9M31.3 254.16H34.9M31.3 241.24H34.9M31.3 228.32H34.9M31.3 215.41H34.9M34.8 357.5V360.5M54.31 357.5V360.5M73.82 357.5V360.5M93.33 357.5V360.5M112.84 357.5V360.5M132.35 357.5V360.5M151.86 357.5V360.5M171.37 357.5V360.5M190.88 357.5V360.5M210.39 357.5V360.5M229.9 357.5V360.5M249.41 357.5V360.5" stroke="#000" stroke-width="1.3" fill="none"/>
<text x="142.15" y="380.6" font-size="8.3" text-anchor="middle" font-family="Liberation Sans, sans-serif" stroke="#000" stroke-width="0.18"  font-weight="bold">Time (min)</text>
<text transform="translate(7.5 286.45) rotate(-90)" font-size="8.45" text-anchor="middle" font-weight="bold" font-family="Liberation Sans, sans-serif" stroke="#000" stroke-width="0.18">TDT (cm)</text>
<text x="6.8" y="200.9" font-size="10" text-anchor="start" font-family="Liberation Sans, sans-serif" stroke="#000" stroke-width="0.18"  font-weight="bold">C</text>
<path d="M38.7 289.66V293.79M36.5 289.66H40.9M36.5 293.79H40.9M42.6 318.02V324.22M40.4 318.02H44.8M40.4 324.22H44.8M46.51 318.23V334.77M44.31 318.23H48.71M44.31 334.77H48.71M50.41 331.67V342M48.21 331.67H52.61M48.21 342H52.61M54.31 331.15V345.62M52.11 331.15H56.51M52.11 345.62H56.51M58.21 333.73V345.1M56.01 333.73H60.41M56.01 345.1H60.41M62.11 339.42V349.75M59.91 339.42H64.31M59.91 349.75H64.31M66.02 343.03V351.3M63.82 343.03H68.22M63.82 351.3H68.22M69.92 343.03V351.3M67.72 343.03H72.12M67.72 351.3H72.12M73.82 337.61V348.46M71.62 337.61H76.02M71.62 348.46H76.02M77.72 339.42V350.16M75.52 339.42H79.92M75.52 350.16H79.92M81.62 328.41V342.98M79.42 328.41H83.82M79.42 342.98H83.82M85.53 309.45V329.08M83.33 309.45H87.73M83.33 329.08H87.73M89.43 335.7V348.51M87.23 335.7H91.63M87.23 348.51H91.63M93.33 341.48V349.75M91.13 341.48H95.53M91.13 349.75H95.53M97.23 337.92V349.28M95.03 337.92H99.43M95.03 349.28H99.43M101.13 346.65V352.85M98.93 346.65H103.33M98.93 352.85H103.33M105.04 352.85V355.95M102.84 352.85H107.24M102.84 355.95H107.24M108.94 352.85V355.95M106.74 352.85H111.14M106.74 355.95H111.14M112.84 344.32V351.04M110.64 344.32H115.04M110.64 351.04H115.04M116.74 353.11V355.69M114.54 353.11H118.94M114.54 355.69H118.94M120.64 353.11V355.69M118.44 353.11H122.84M118.44 355.69H122.84M124.55 352.33V355.43M122.35 352.33H126.75M122.35 355.43H126.75M128.45 348.72V355.95M126.25 348.72H130.65M126.25 355.95H130.65M132.35 352.33V355.43M130.15 352.33H134.55M130.15 355.43H134.55M136.25 353.37V355.95M134.05 353.37H138.45M134.05 355.95H138.45M140.15 345.1V355.12M137.95 345.1H142.35M137.95 355.12H142.35M144.06 353.37V355.95M141.86 353.37H146.26M141.86 355.95H146.26M147.96 354.14V356.72M145.76 354.14H150.16M145.76 356.72H150.16M151.86 354.14V356.72M149.66 354.14H154.06M149.66 356.72H154.06M155.76 347.89V356.47M153.56 347.89H157.96M153.56 356.47H157.96M159.66 346.08V356.31M157.46 346.08H161.86M157.46 356.31H161.86M163.57 352.59V355.69M161.37 352.59H165.77M161.37 355.69H165.77M167.47 353.37V355.95M165.27 353.37H169.67M165.27 355.95H169.67M171.37 353.37V355.95M169.17 353.37H173.57M169.17 355.95H173.57M175.27 351.51V355.85M173.07 351.51H177.47M173.07 355.85H177.47M179.17 350.52V353.83M176.97 350.52H181.37M176.97 353.83H181.37M183.08 353.62V356.21M180.88 353.62H185.28M180.88 356.21H185.28M186.98 354.4V356.47M184.78 354.4H189.18M184.78 356.47H189.18M190.88 354.4V356.47M188.68 354.4H193.08M188.68 356.47H193.08M194.78 354.4V356.47M192.58 354.4H196.98M192.58 356.47H196.98M198.68 352.85V355.95M196.48 352.85H200.88M196.48 355.95H200.88M202.59 350.94V355.07M200.39 350.94H204.79M200.39 355.07H204.79M206.49 350.11V354.24M204.29 350.11H208.69M204.29 354.24H208.69M210.39 352.85V355.95M208.19 352.85H212.59M208.19 355.95H212.59M214.29 354.92V356.98M212.09 354.92H216.49M212.09 356.98H216.49M218.19 354.66V356.72M215.99 354.66H220.39M215.99 356.72H220.39M222.1 354.92V356.98M219.9 354.92H224.3M219.9 356.98H224.3M226 355.43V356.98M223.8 355.43H228.2M223.8 356.98H228.2M229.9 355.43V356.98M227.7 355.43H232.1M227.7 356.98H232.1M233.8 354.92V356.98M231.6 354.92H236M231.6 356.98H236" stroke="#18c418" stroke-width="0.7" fill="none"/>
<rect x="36.9" y="289.92" width="3.6" height="3.6" fill="#18c418"/>
<rect x="40.8" y="319.32" width="3.6" height="3.6" fill="#18c418"/>
<rect x="44.71" y="324.7" width="3.6" height="3.6" fill="#18c418"/>
<rect x="48.61" y="335.03" width="3.6" height="3.6" fill="#18c418"/>
<rect x="52.51" y="336.58" width="3.6" height="3.6" fill="#18c418"/>
<rect x="56.41" y="337.62" width="3.6" height="3.6" fill="#18c418"/>
<rect x="60.31" y="342.78" width="3.6" height="3.6" fill="#18c418"/>
<rect x="64.22" y="345.37" width="3.6" height="3.6" fill="#18c418"/>
<rect x="68.12" y="345.37" width="3.6" height="3.6" fill="#18c418"/>
<rect x="72.02" y="341.23" width="3.6" height="3.6" fill="#18c418"/>
<rect x="75.92" y="342.99" width="3.6" height="3.6" fill="#18c418"/>
<rect x="79.82" y="333.9" width="3.6" height="3.6" fill="#18c418"/>
<rect x="83.73" y="317.46" width="3.6" height="3.6" fill="#18c418"/>
<rect x="87.63" y="340.3" width="3.6" height="3.6" fill="#18c418"/>
<rect x="91.53" y="343.82" width="3.6" height="3.6" fill="#18c418"/>
<rect x="95.43" y="341.8" width="3.6" height="3.6" fill="#18c418"/>
<rect x="99.33" y="347.95" width="3.6" height="3.6" fill="#18c418"/>
<rect x="103.24" y="352.6" width="3.6" height="3.6" fill="#18c418"/>
<rect x="107.14" y="352.6" width="3.6" height="3.6" fill="#18c418"/>
<rect x="111.04" y="345.88" width="3.6" height="3.6" fill="#18c418"/>
<rect x="114.94" y="352.6" width="3.6" height="3.6" fill="#18c418"/>
<rect x="118.84" y="352.6" width="3.6" height="3.6" fill="#18c418"/>
<rect x="122.75" y="352.08" width="3.6" height="3.6" fill="#18c418"/>
<rect x="126.65" y="350.53" width="3.6" height="3.6" fill="#18c418"/>
<rect x="130.55" y="352.08" width="3.6" height="3.6" fill="#18c418"/>
<rect x="134.45" y="352.86" width="3.6" height="3.6" fill="#18c418"/>
<rect x="138.35" y="348.31" width="3.6" height="3.6" fill="#18c418"/>
<rect x="142.26" y="352.86" width="3.6" height="3.6" fill="#18c418"/>
<rect x="146.16" y="353.63" width="3.6" height="3.6" fill="#18c418"/>
<rect x="150.06" y="353.63" width="3.6" height="3.6" fill="#18c418"/>
<rect x="153.96" y="350.38" width="3.6" height="3.6" fill="#18c418"/>
<rect x="157.86" y="349.4" width="3.6" height="3.6" fill="#18c418"/>
<rect x="161.77" y="352.34" width="3.6" height="3.6" fill="#18c418"/>
<rect x="165.67" y="352.86" width="3.6" height="3.6" fill="#18c418"/>
<rect x="169.57" y="352.86" width="3.6" height="3.6" fill="#18c418"/>
<rect x="173.47" y="351.88" width="3.6" height="3.6" fill="#18c418"/>
<rect x="177.37" y="350.38" width="3.6" height="3.6" fill="#18c418"/>
<rect x="181.28" y="353.12" width="3.6" height="3.6" fill="#18c418"/>
<rect x="185.18" y="353.63" width="3.6" height="3.6" fill="#18c418"/>
<rect x="189.08" y="353.63" width="3.6" height="3.6" fill="#18c418"/>
<rect x="192.98" y="353.63" width="3.6" height="3.6" fill="#18c418"/>
<rect x="196.88" y="352.6" width="3.6" height="3.6" fill="#18c418"/>
<rect x="200.79" y="351.2" width="3.6" height="3.6" fill="#18c418"/>
<rect x="204.69" y="350.38" width="3.6" height="3.6" fill="#18c418"/>
<rect x="208.59" y="352.6" width="3.6" height="3.6" fill="#18c418"/>
<rect x="212.49" y="354.15" width="3.6" height="3.6" fill="#18c418"/>
<rect x="216.39" y="353.89" width="3.6" height="3.6" fill="#18c418"/>
<rect x="220.3" y="354.15" width="3.6" height="3.6" fill="#18c418"/>
<rect x="224.2" y="354.41" width="3.6" height="3.6" fill="#18c418"/>
<rect x="228.1" y="354.41" width="3.6" height="3.6" fill="#18c418"/>
<rect x="232" y="354.15" width="3.6" height="3.6" fill="#18c418"/>
<path d="M38.7 293.89V313.53M36.5 293.89H40.9M36.5 313.53H40.9M42.6 316.16V322.36M40.4 316.16H44.8M40.4 322.36H44.8M46.51 320.56V328.82M44.31 320.56H48.71M44.31 328.82H48.71M50.41 338.38V345.82M48.21 338.38H52.61M48.21 345.82H52.61M54.31 340.45V348.72M52.11 340.45H56.51M52.11 348.72H56.51M58.21 344.07V350.27M56.01 344.07H60.41M56.01 350.27H60.41M62.11 335.8V346.13M59.91 335.8H64.31M59.91 346.13H64.31M66.02 344.07V350.27M63.82 344.07H68.22M63.82 350.27H68.22M69.92 346.65V352.85M67.72 346.65H72.12M67.72 352.85H72.12M73.82 350.27V354.4M71.62 350.27H76.02M71.62 354.4H76.02M77.72 351.3V355.43M75.52 351.3H79.92M75.52 355.43H79.92M81.62 353.37V356.47M79.42 353.37H83.82M79.42 356.47H83.82M85.53 328.36V339.42M83.33 328.36H87.73M83.33 339.42H87.73M89.43 350.27V354.4M87.23 350.27H91.63M87.23 354.4H91.63M93.33 353.37V356.47M91.13 353.37H95.53M91.13 356.47H95.53M97.23 354.4V356.47M95.03 354.4H99.43M95.03 356.47H99.43M101.13 344.07V350.27M98.93 344.07H103.33M98.93 350.27H103.33M105.04 355.07V356.52M102.84 355.07H107.24M102.84 356.52H107.24M108.94 354.76V356.21M106.74 354.76H111.14M106.74 356.21H111.14M112.84 355.07V356.52M110.64 355.07H115.04M110.64 356.52H115.04M116.74 355.07V356.52M114.54 355.07H118.94M114.54 356.52H118.94M120.64 354.76V356.21M118.44 354.76H122.84M118.44 356.21H122.84M124.55 355.07V356.52M122.35 355.07H126.75M122.35 356.52H126.75M128.45 355.07V356.52M126.25 355.07H130.65M126.25 356.52H130.65M132.35 354.76V356.21M130.15 354.76H134.55M130.15 356.21H134.55M136.25 355.07V356.52M134.05 355.07H138.45M134.05 356.52H138.45M140.15 355.07V356.52M137.95 355.07H142.35M137.95 356.52H142.35M144.06 354.76V356.21M141.86 354.76H146.26M141.86 356.21H146.26M147.96 355.07V356.52M145.76 355.07H150.16M145.76 356.52H150.16M151.86 355.07V356.52M149.66 355.07H154.06M149.66 356.52H154.06M155.76 354.76V356.21M153.56 354.76H157.96M153.56 356.21H157.96M159.66 355.07V356.52M157.46 355.07H161.86M157.46 356.52H161.86M163.57 355.07V356.52M161.37 355.07H165.77M161.37 356.52H165.77M167.47 354.76V356.21M165.27 354.76H169.67M165.27 356.21H169.67M171.37 355.07V356.52M169.17 355.07H173.57M169.17 356.52H173.57M175.27 355.07V356.52M173.07 355.07H177.47M173.07 356.52H177.47M179.17 354.76V356.21M176.97 354.76H181.37M176.97 356.21H181.37M183.08 351.45V357.5M180.88 351.45H185.28M186.98 355.07V356.52M184.78 355.07H189.18M184.78 356.52H189.18M190.88 354.76V356.21M188.68 354.76H193.08M188.68 356.21H193.08M194.78 351.45V357.5M192.58 351.45H196.98M198.68 355.07V356.52M196.48 355.07H200.88M196.48 356.52H200.88M202.59 354.76V356.21M200.39 354.76H204.79M200.39 356.21H204.79M206.49 355.07V356.52M204.29 355.07H208.69M204.29 356.52H208.69M210.39 355.07V356.52M208.19 355.07H212.59M208.19 356.52H212.59M214.29 354.76V356.21M212.09 354.76H216.49M212.09 356.21H216.49M218.19 355.07V356.52M215.99 355.07H220.39M215.99 356.52H220.39M222.1 355.07V356.52M219.9 355.07H224.3M219.9 356.52H224.3M226 354.76V356.21M223.8 354.76H228.2M223.8 356.21H228.2M229.9 355.07V356.52M227.7 355.07H232.1M227.7 356.52H232.1M233.8 339V353.99M231.6 339H236M231.6 353.99H236" stroke="#000000" stroke-width="0.7" fill="none"/>
<path d="M38.7 301.73L40.59 305.24L36.81 305.24Z" fill="#000000"/>
<path d="M42.6 317.28L44.49 320.79L40.71 320.79Z" fill="#000000"/>
<path d="M46.51 322.71L48.4 326.22L44.62 326.22Z" fill="#000000"/>
<path d="M50.41 340.12L52.3 343.63L48.52 343.63Z" fill="#000000"/>
<path d="M54.31 342.6L56.2 346.11L52.42 346.11Z" fill="#000000"/>
<path d="M58.21 345.19L60.1 348.7L56.32 348.7Z" fill="#000000"/>
<path d="M62.11 338.99L64 342.5L60.22 342.5Z" fill="#000000"/>
<path d="M66.02 345.19L67.91 348.7L64.13 348.7Z" fill="#000000"/>
<path d="M69.92 347.77L71.81 351.28L68.03 351.28Z" fill="#000000"/>
<path d="M73.82 350.35L75.71 353.86L71.93 353.86Z" fill="#000000"/>
<path d="M77.72 351.39L79.61 354.9L75.83 354.9Z" fill="#000000"/>
<path d="M81.62 352.94L83.51 356.45L79.73 356.45Z" fill="#000000"/>
<path d="M85.53 331.91L87.42 335.42L83.64 335.42Z" fill="#000000"/>
<path d="M89.43 350.35L91.32 353.86L87.54 353.86Z" fill="#000000"/>
<path d="M93.33 352.94L95.22 356.45L91.44 356.45Z" fill="#000000"/>
<path d="M97.23 353.45L99.12 356.96L95.34 356.96Z" fill="#000000"/>
<path d="M101.13 345.19L103.02 348.7L99.24 348.7Z" fill="#000000"/>
<path d="M105.04 353.81L106.93 357.32L103.15 357.32Z" fill="#000000"/>
<path d="M108.94 353.5L110.83 357.01L107.05 357.01Z" fill="#000000"/>
<path d="M112.84 353.81L114.73 357.32L110.95 357.32Z" fill="#000000"/>
<path d="M116.74 353.81L118.63 357.32L114.85 357.32Z" fill="#000000"/>
<path d="M120.64 353.5L122.53 357.01L118.75 357.01Z" fill="#000000"/>
<path d="M124.55 353.81L126.44 357.32L122.66 357.32Z" fill="#000000"/>
<path d="M128.45 353.81L130.34 357.32L126.56 357.32Z" fill="#000000"/>
<path d="M132.35 353.5L134.24 357.01L130.46 357.01Z" fill="#000000"/>
<path d="M136.25 353.81L138.14 357.32L134.36 357.32Z" fill="#000000"/>
<path d="M140.15 353.81L142.04 357.32L138.26 357.32Z" fill="#000000"/>
<path d="M144.06 353.5L145.95 357.01L142.17 357.01Z" fill="#000000"/>
<path d="M147.96 353.81L149.85 357.32L146.07 357.32Z" fill="#000000"/>
<path d="M151.86 353.81L153.75 357.32L149.97 357.32Z" fill="#000000"/>
<path d="M155.76 353.5L157.65 357.01L153.87 357.01Z" fill="#000000"/>
<path d="M159.66 353.81L161.55 357.32L157.77 357.32Z" fill="#000000"/>
<path d="M163.57 353.81L165.46 357.32L161.68 357.32Z" fill="#000000"/>
<path d="M167.47 353.5L169.36 357.01L165.58 357.01Z" fill="#000000"/>
<path d="M171.37 353.81L173.26 357.32L169.48 357.32Z" fill="#000000"/>
<path d="M175.27 353.81L177.16 357.32L173.38 357.32Z" fill="#000000"/>
<path d="M179.17 353.5L181.06 357.01L177.28 357.01Z" fill="#000000"/>
<path d="M183.08 353.81L184.97 357.32L181.19 357.32Z" fill="#000000"/>
<path d="M186.98 353.81L188.87 357.32L185.09 357.32Z" fill="#000000"/>
<path d="M190.88 353.5L192.77 357.01L188.99 357.01Z" fill="#000000"/>
<path d="M194.78 353.81L196.67 357.32L192.89 357.32Z" fill="#000000"/>
<path d="M198.68 353.81L200.57 357.32L196.79 357.32Z" fill="#000000"/>
<path d="M202.59 353.5L204.48 357.01L200.7 357.01Z" fill="#000000"/>
<path d="M206.49 353.81L208.38 357.32L204.6 357.32Z" fill="#000000"/>
<path d="M210.39 353.81L212.28 357.32L208.5 357.32Z" fill="#000000"/>
<path d="M214.29 353.5L216.18 357.01L212.4 357.01Z" fill="#000000"/>
<path d="M218.19 353.81L220.08 357.32L216.3 357.32Z" fill="#000000"/>
<path d="M222.1 353.81L223.99 357.32L220.21 357.32Z" fill="#000000"/>
<path d="M226 353.5L227.89 357.01L224.11 357.01Z" fill="#000000"/>
<path d="M229.9 353.81L231.79 357.32L228.01 357.32Z" fill="#000000"/>
<path d="M233.8 344.51L235.69 348.02L231.91 348.02Z" fill="#000000"/>
<path d="M38.7 265.53V294.46M36.5 265.53H40.9M36.5 294.46H40.9M42.6 314.98V330.48M40.4 314.98H44.8M40.4 330.48H44.8M46.51 330.63V343.03M44.31 330.63H48.71M44.31 343.03H48.71M50.41 334.25V344.58M48.21 334.25H52.61M48.21 344.58H52.61M54.31 346.18V352.38M52.11 346.18H56.51M52.11 352.38H56.51M58.21 346.65V352.85M56.01 346.65H60.41M56.01 352.85H60.41M62.11 344.07V350.27M59.91 344.07H64.31M59.91 350.27H64.31M66.02 344.07V350.27M63.82 344.07H68.22M63.82 350.27H68.22M69.92 346.65V352.85M67.72 346.65H72.12M67.72 352.85H72.12M73.82 350.42V354.55M71.62 350.42H76.02M71.62 354.55H76.02M77.72 350.27V354.4M75.52 350.27H79.92M75.52 354.4H79.92M81.62 346.65V352.85M79.42 346.65H83.82M79.42 352.85H83.82M85.53 314.61V330.11M83.33 314.61H87.73M83.33 330.11H87.73M89.43 347.17V353.37M87.23 347.17H91.63M87.23 353.37H91.63M93.33 350.27V354.4M91.13 350.27H95.53M91.13 354.4H95.53M97.23 351.3V355.43M95.03 351.3H99.43M95.03 355.43H99.43M101.13 318.13V334.66M98.93 318.13H103.33M98.93 334.66H103.33M105.04 327.48V339.88M102.84 327.48H107.24M102.84 339.88H107.24M108.94 322.26V338.8M106.74 322.26H111.14M106.74 338.8H111.14M112.84 300.4V325.21M110.64 300.4H115.04M110.64 325.21H115.04M116.74 274.57V313.43M114.54 274.57H118.94M114.54 313.43H118.94M120.64 259.38V303.4M118.44 259.38H122.84M118.44 303.4H122.84M124.55 250.96V299.22M122.35 250.96H126.75M122.35 299.22H126.75M128.45 258.04V305.57M126.25 258.04H130.65M126.25 305.57H130.65M132.35 245.89V296.12M130.15 245.89H134.55M130.15 296.12H134.55M136.25 249.41V300.77M134.05 249.41H138.45M134.05 300.77H138.45M140.15 244.19V299.37M137.95 244.19H142.35M137.95 299.37H142.35M144.06 239.59V294.77M141.86 239.59H146.26M141.86 294.77H146.26M147.96 253.23V299.94M145.76 253.23H150.16M145.76 299.94H150.16M151.86 247.8V299.16M149.66 247.8H154.06M149.66 299.16H154.06M155.76 254.21V303.19M153.56 254.21H157.96M153.56 303.19H157.96M159.66 268.21V309.96M157.46 268.21H161.86M157.46 309.96H161.86M163.57 287.13V318.13M161.37 287.13H165.77M161.37 318.13H165.77M167.47 296.27V322.11M165.27 296.27H169.67M165.27 322.11H169.67M171.37 305.83V326.5M169.17 305.83H173.57M169.17 326.5H173.57M175.27 313.06V335.8M173.07 313.06H177.47M173.07 335.8H177.47M179.17 326.55V341.22M176.97 326.55H181.37M176.97 341.22H181.37M183.08 323.91V339.42M180.88 323.91H185.28M180.88 339.42H185.28M186.98 319.32V337.5M184.78 319.32H189.18M184.78 337.5H189.18M190.88 330.63V343.03M188.68 330.63H193.08M188.68 343.03H193.08M194.78 334.25V344.58M192.58 334.25H196.98M192.58 344.58H196.98M198.68 336.83V347.17M196.48 336.83H200.88M196.48 347.17H200.88M202.59 340.45V348.72M200.39 340.45H204.79M200.39 348.72H204.79M206.49 340.45V348.72M204.29 340.45H208.69M204.29 348.72H208.69M210.39 340.45V348.72M208.19 340.45H212.59M208.19 348.72H212.59M214.29 336.37V344.63M212.09 336.37H216.49M212.09 344.63H216.49M218.19 343.39V349.59M215.99 343.39H220.39M215.99 349.59H220.39M222.1 347.17V352.33M219.9 347.17H224.3M219.9 352.33H224.3M226 348.04V352.18M223.8 348.04H228.2M223.8 352.18H228.2M229.9 346.8V351.66M227.7 346.8H232.1M227.7 351.66H232.1M233.8 350.27V354.4M231.6 350.27H236M231.6 354.4H236" stroke="#902830" stroke-width="0.7" fill="none"/>
<path d="M38.7 281.98L40.59 278.47L36.81 278.47Z" fill="#a20000"/>
<path d="M42.6 324.71L44.49 321.2L40.71 321.2Z" fill="#a20000"/>
<path d="M46.51 338.81L48.4 335.3L44.62 335.3Z" fill="#a20000"/>
<path d="M50.41 341.4L52.3 337.89L48.52 337.89Z" fill="#a20000"/>
<path d="M54.31 351.26L56.2 347.75L52.42 347.75Z" fill="#a20000"/>
<path d="M58.21 351.73L60.1 348.22L56.32 348.22Z" fill="#a20000"/>
<path d="M62.11 349.15L64 345.64L60.22 345.64Z" fill="#a20000"/>
<path d="M66.02 349.15L67.91 345.64L64.13 345.64Z" fill="#a20000"/>
<path d="M69.92 351.73L71.81 348.22L68.03 348.22Z" fill="#a20000"/>
<path d="M73.82 354.47L75.71 350.96L71.93 350.96Z" fill="#a20000"/>
<path d="M77.72 354.31L79.61 350.8L75.83 350.8Z" fill="#a20000"/>
<path d="M81.62 351.73L83.51 348.22L79.73 348.22Z" fill="#a20000"/>
<path d="M85.53 324.34L87.42 320.83L83.64 320.83Z" fill="#a20000"/>
<path d="M89.43 352.25L91.32 348.74L87.54 348.74Z" fill="#a20000"/>
<path d="M93.33 354.31L95.22 350.8L91.44 350.8Z" fill="#a20000"/>
<path d="M97.23 355.35L99.12 351.84L95.34 351.84Z" fill="#a20000"/>
<path d="M101.13 328.37L103.02 324.86L99.24 324.86Z" fill="#a20000"/>
<path d="M105.04 335.66L106.93 332.15L103.15 332.15Z" fill="#a20000"/>
<path d="M108.94 332.51L110.83 329L107.05 329Z" fill="#a20000"/>
<path d="M112.84 314.79L114.73 311.28L110.95 311.28Z" fill="#a20000"/>
<path d="M116.74 295.98L118.63 292.47L114.85 292.47Z" fill="#a20000"/>
<path d="M120.64 283.37L122.53 279.86L118.75 279.86Z" fill="#a20000"/>
<path d="M124.55 277.07L126.44 273.56L122.66 273.56Z" fill="#a20000"/>
<path d="M128.45 283.78L130.34 280.27L126.56 280.27Z" fill="#a20000"/>
<path d="M132.35 272.98L134.24 269.47L130.46 269.47Z" fill="#a20000"/>
<path d="M136.25 277.07L138.14 273.56L134.36 273.56Z" fill="#a20000"/>
<path d="M140.15 273.76L142.04 270.25L138.26 270.25Z" fill="#a20000"/>
<path d="M144.06 269.16L145.95 265.65L142.17 265.65Z" fill="#a20000"/>
<path d="M147.96 278.56L149.85 275.05L146.07 275.05Z" fill="#a20000"/>
<path d="M151.86 275.46L153.75 271.95L149.97 271.95Z" fill="#a20000"/>
<path d="M155.76 280.68L157.65 277.17L153.87 277.17Z" fill="#a20000"/>
<path d="M159.66 291.07L161.55 287.56L157.77 287.56Z" fill="#a20000"/>
<path d="M163.57 304.61L165.46 301.1L161.68 301.1Z" fill="#a20000"/>
<path d="M167.47 311.17L169.36 307.66L165.58 307.66Z" fill="#a20000"/>
<path d="M171.37 318.14L173.26 314.63L169.48 314.63Z" fill="#a20000"/>
<path d="M175.27 326.41L177.16 322.9L173.38 322.9Z" fill="#a20000"/>
<path d="M179.17 335.87L181.06 332.36L177.28 332.36Z" fill="#a20000"/>
<path d="M183.08 333.65L184.97 330.14L181.19 330.14Z" fill="#a20000"/>
<path d="M186.98 330.39L188.87 326.88L185.09 326.88Z" fill="#a20000"/>
<path d="M190.88 338.81L192.77 335.3L188.99 335.3Z" fill="#a20000"/>
<path d="M194.78 341.4L196.67 337.89L192.89 337.89Z" fill="#a20000"/>
<path d="M198.68 343.98L200.57 340.47L196.79 340.47Z" fill="#a20000"/>
<path d="M202.59 346.56L204.48 343.05L200.7 343.05Z" fill="#a20000"/>
<path d="M206.49 346.56L208.38 343.05L204.6 343.05Z" fill="#a20000"/>
<path d="M210.39 346.56L212.28 343.05L208.5 343.05Z" fill="#a20000"/>
<path d="M214.29 342.48L216.18 338.97L212.4 338.97Z" fill="#a20000"/>
<path d="M218.19 348.47L220.08 344.96L216.3 344.96Z" fill="#a20000"/>
<path d="M222.1 351.73L223.99 348.22L220.21 348.22Z" fill="#a20000"/>
<path d="M226 352.09L227.89 348.58L224.11 348.58Z" fill="#a20000"/>
<path d="M229.9 351.21L231.79 347.7L228.01 347.7Z" fill="#a20000"/>
<path d="M233.8 354.31L235.69 350.8L231.91 350.8Z" fill="#a20000"/>
<path d="M38.7 259.74V294.88M36.5 259.74H40.9M36.5 294.88H40.9M42.6 304.69V319.16M40.4 304.69H44.8M40.4 319.16H44.8M46.51 325.93V338.33M44.31 325.93H48.71M44.31 338.33H48.71M50.41 326.96V340.4M48.21 326.96H52.61M48.21 340.4H52.61M54.31 335.54V345.87M52.11 335.54H56.51M52.11 345.87H56.51M58.21 342.88V351.14M56.01 342.88H60.41M56.01 351.14H60.41M62.11 342.88V351.14M59.91 342.88H64.31M59.91 351.14H64.31M66.02 342V350.27M63.82 342H68.22M63.82 350.27H68.22M69.92 342.88V351.14M67.72 342.88H72.12M67.72 351.14H72.12M73.82 344.58V351.82M71.62 344.58H76.02M71.62 351.82H76.02M77.72 347.01V353.21M75.52 347.01H79.92M75.52 353.21H79.92M81.62 347.01V353.21M79.42 347.01H83.82M79.42 353.21H83.82M85.53 309.76V326.29M83.33 309.76H87.73M83.33 326.29H87.73M89.43 346.18V352.38M87.23 346.18H91.63M87.23 352.38H91.63M93.33 348.72V353.88M91.13 348.72H95.53M91.13 353.88H95.53M97.23 351.92V356.05M95.03 351.92H99.43M95.03 356.05H99.43M101.13 305.62V324.22M98.93 305.62H103.33M98.93 324.22H103.33M105.04 303.04V320.61M102.84 303.04H107.24M102.84 320.61H107.24M108.94 287.85V310.58M106.74 287.85H111.14M106.74 310.58H111.14M112.84 273.79V302.73M110.64 273.79H115.04M110.64 302.73H115.04M116.74 261.14V291.1M114.54 261.14H118.94M114.54 291.1H118.94M120.64 242.17V280.41M118.44 242.17H122.84M118.44 280.41H122.84M124.55 228.58V275.81M122.35 228.58H126.75M122.35 275.81H126.75M128.45 226.88V275.34M126.25 226.88H130.65M126.25 275.34H130.65M132.35 231.32V280.1M130.15 231.32H134.55M130.15 280.1H134.55M136.25 235.51V281.29M134.05 235.51H138.45M134.05 281.29H138.45M140.15 239.02V280.77M137.95 239.02H142.35M137.95 280.77H142.35M144.06 252.61V289.4M141.86 252.61H146.26M141.86 289.4H146.26M147.96 264.08V297.15M145.76 264.08H150.16M145.76 297.15H150.16M151.86 278.39V306.3M149.66 278.39H154.06M149.66 306.3H154.06M155.76 288.06V313.79M153.56 288.06H157.96M153.56 313.79H157.96M159.66 297.25V319.99M157.46 297.25H161.86M157.46 319.99H161.86M163.57 303.45V324.12M161.37 303.45H165.77M161.37 324.12H165.77M167.47 301.49V322.16M165.27 301.49H169.67M165.27 322.16H169.67M171.37 303.61V322.21M169.17 303.61H173.57M169.17 322.21H173.57M175.27 315.39V331.92M173.07 315.39H177.47M173.07 331.92H177.47M179.17 315.91V333.47M176.97 315.91H181.37M176.97 333.47H181.37M183.08 315.65V333.22M180.88 315.65H185.28M180.88 333.22H185.28M186.98 312.96V332.6M184.78 312.96H189.18M184.78 332.6H189.18M190.88 327.84V338.18M188.68 327.84H193.08M188.68 338.18H193.08M194.78 331.46V341.79M192.58 331.46H196.98M192.58 341.79H196.98M198.68 334.77V344.07M196.48 334.77H200.88M196.48 344.07H200.88M202.59 336.94V347.27M200.39 336.94H204.79M200.39 347.27H204.79M206.49 334.87V349.34M204.29 334.87H208.69M204.29 349.34H208.69M210.39 341.17V350.47M208.19 341.17H212.59M208.19 350.47H212.59M214.29 344.89V352.13M212.09 344.89H216.49M212.09 352.13H216.49M218.19 346.13V352.33M215.99 346.13H220.39M215.99 352.33H220.39M222.1 347.22V353.42M219.9 347.22H224.3M219.9 353.42H224.3M226 349.23V354.4M223.8 349.23H228.2M223.8 354.4H228.2M229.9 349.23V354.4M227.7 349.23H232.1M227.7 354.4H232.1M233.8 349.59V354.76M231.6 349.59H236M231.6 354.76H236" stroke="#e6b460" stroke-width="0.7" fill="none"/>
<path d="M38.7 275.06L40.95 277.31L38.7 279.56L36.45 277.31Z" fill="#e9a431"/>
<path d="M42.6 309.68L44.85 311.93L42.6 314.18L40.35 311.93Z" fill="#e9a431"/>
<path d="M46.51 329.88L48.76 332.13L46.51 334.38L44.26 332.13Z" fill="#e9a431"/>
<path d="M50.41 331.43L52.66 333.68L50.41 335.93L48.16 333.68Z" fill="#e9a431"/>
<path d="M54.31 338.46L56.56 340.71L54.31 342.96L52.06 340.71Z" fill="#e9a431"/>
<path d="M58.21 344.76L60.46 347.01L58.21 349.26L55.96 347.01Z" fill="#e9a431"/>
<path d="M62.11 344.76L64.36 347.01L62.11 349.26L59.86 347.01Z" fill="#e9a431"/>
<path d="M66.02 343.88L68.27 346.13L66.02 348.38L63.77 346.13Z" fill="#e9a431"/>
<path d="M69.92 344.76L72.17 347.01L69.92 349.26L67.67 347.01Z" fill="#e9a431"/>
<path d="M73.82 345.95L76.07 348.2L73.82 350.45L71.57 348.2Z" fill="#e9a431"/>
<path d="M77.72 347.86L79.97 350.11L77.72 352.36L75.47 350.11Z" fill="#e9a431"/>
<path d="M81.62 347.86L83.87 350.11L81.62 352.36L79.37 350.11Z" fill="#e9a431"/>
<path d="M85.53 315.77L87.78 318.02L85.53 320.27L83.28 318.02Z" fill="#e9a431"/>
<path d="M89.43 347.03L91.68 349.28L89.43 351.53L87.18 349.28Z" fill="#e9a431"/>
<path d="M93.33 349.05L95.58 351.3L93.33 353.55L91.08 351.3Z" fill="#e9a431"/>
<path d="M97.23 351.74L99.48 353.99L97.23 356.24L94.98 353.99Z" fill="#e9a431"/>
<path d="M101.13 312.67L103.38 314.92L101.13 317.17L98.88 314.92Z" fill="#e9a431"/>
<path d="M105.04 309.57L107.29 311.82L105.04 314.07L102.79 311.82Z" fill="#e9a431"/>
<path d="M108.94 296.97L111.19 299.22L108.94 301.47L106.69 299.22Z" fill="#e9a431"/>
<path d="M112.84 286.01L115.09 288.26L112.84 290.51L110.59 288.26Z" fill="#e9a431"/>
<path d="M116.74 273.87L118.99 276.12L116.74 278.37L114.49 276.12Z" fill="#e9a431"/>
<path d="M120.64 259.04L122.89 261.29L120.64 263.54L118.39 261.29Z" fill="#e9a431"/>
<path d="M124.55 249.95L126.8 252.2L124.55 254.45L122.3 252.2Z" fill="#e9a431"/>
<path d="M128.45 248.86L130.7 251.11L128.45 253.36L126.2 251.11Z" fill="#e9a431"/>
<path d="M132.35 253.46L134.6 255.71L132.35 257.96L130.1 255.71Z" fill="#e9a431"/>
<path d="M136.25 256.15L138.5 258.4L136.25 260.65L134 258.4Z" fill="#e9a431"/>
<path d="M140.15 257.65L142.4 259.9L140.15 262.15L137.9 259.9Z" fill="#e9a431"/>
<path d="M144.06 268.75L146.31 271L144.06 273.25L141.81 271Z" fill="#e9a431"/>
<path d="M147.96 278.37L150.21 280.62L147.96 282.87L145.71 280.62Z" fill="#e9a431"/>
<path d="M151.86 290.09L154.11 292.34L151.86 294.59L149.61 292.34Z" fill="#e9a431"/>
<path d="M155.76 298.67L158.01 300.92L155.76 303.17L153.51 300.92Z" fill="#e9a431"/>
<path d="M159.66 306.37L161.91 308.62L159.66 310.87L157.41 308.62Z" fill="#e9a431"/>
<path d="M163.57 311.54L165.82 313.79L163.57 316.04L161.32 313.79Z" fill="#e9a431"/>
<path d="M167.47 309.57L169.72 311.82L167.47 314.07L165.22 311.82Z" fill="#e9a431"/>
<path d="M171.37 310.66L173.62 312.91L171.37 315.16L169.12 312.91Z" fill="#e9a431"/>
<path d="M175.27 321.41L177.52 323.66L175.27 325.91L173.02 323.66Z" fill="#e9a431"/>
<path d="M179.17 322.44L181.42 324.69L179.17 326.94L176.92 324.69Z" fill="#e9a431"/>
<path d="M183.08 322.18L185.33 324.43L183.08 326.68L180.83 324.43Z" fill="#e9a431"/>
<path d="M186.98 320.53L189.23 322.78L186.98 325.03L184.73 322.78Z" fill="#e9a431"/>
<path d="M190.88 330.76L193.13 333.01L190.88 335.26L188.63 333.01Z" fill="#e9a431"/>
<path d="M194.78 334.38L197.03 336.63L194.78 338.88L192.53 336.63Z" fill="#e9a431"/>
<path d="M198.68 337.17L200.93 339.42L198.68 341.67L196.43 339.42Z" fill="#e9a431"/>
<path d="M202.59 339.85L204.84 342.1L202.59 344.35L200.34 342.1Z" fill="#e9a431"/>
<path d="M206.49 339.85L208.74 342.1L206.49 344.35L204.24 342.1Z" fill="#e9a431"/>
<path d="M210.39 343.57L212.64 345.82L210.39 348.07L208.14 345.82Z" fill="#e9a431"/>
<path d="M214.29 346.26L216.54 348.51L214.29 350.76L212.04 348.51Z" fill="#e9a431"/>
<path d="M218.19 346.98L220.44 349.23L218.19 351.48L215.94 349.23Z" fill="#e9a431"/>
<path d="M222.1 348.07L224.35 350.32L222.1 352.57L219.85 350.32Z" fill="#e9a431"/>
<path d="M226 349.57L228.25 351.82L226 354.07L223.75 351.82Z" fill="#e9a431"/>
<path d="M229.9 349.57L232.15 351.82L229.9 354.07L227.65 351.82Z" fill="#e9a431"/>
<path d="M233.8 349.93L236.05 352.18L233.8 354.43L231.55 352.18Z" fill="#e9a431"/>
<rect x="221.5" y="223.6" width="3.6" height="3.6" fill="#18c418"/>
<text x="233.7" y="228.3" font-size="8.2" text-anchor="start" font-family="Liberation Sans, sans-serif" stroke="#000" stroke-width="0.18"  font-weight="bold">V-S</text>
<path d="M223.3 233.77L225.19 237.28L221.41 237.28Z" fill="#000000"/>
<text x="233.7" y="238.65" font-size="8.2" text-anchor="start" font-family="Liberation Sans, sans-serif" stroke="#000" stroke-width="0.18"  font-weight="bold">K-S</text>
<path d="M223.3 248.08L225.19 244.57L221.41 244.57Z" fill="#a20000"/>
<text x="233.7" y="249" font-size="8.2" text-anchor="start" font-family="Liberation Sans, sans-serif" stroke="#000" stroke-width="0.18"  font-weight="bold">V-A</text>
<path d="M223.3 254.2L225.55 256.45L223.3 258.7L221.05 256.45Z" fill="#e9a431"/>
<text x="233.7" y="259.35" font-size="8.2" text-anchor="start" font-family="Liberation Sans, sans-serif" stroke="#000" stroke-width="0.18"  font-weight="bold">K-A</text>
<path d="M334.7 17.7V164.85" stroke="#000" stroke-width="1.5" fill="none"/>
<path d="M333.95 164.1H555.5" stroke="#000" stroke-width="1.5" fill="none"/>
<text x="330.5" y="167.1" font-size="8.2" text-anchor="end" font-family="Liberation Sans, sans-serif" stroke="#000" stroke-width="0.18"  font-weight="bold">0</text>
<text x="330.5" y="146.26" font-size="8.2" text-anchor="end" font-family="Liberation Sans, sans-serif" stroke="#000" stroke-width="0.18"  font-weight="bold">5000</text>
<text x="330.5" y="125.41" font-size="8.2" text-anchor="end" font-family="Liberation Sans, sans-serif" stroke="#000" stroke-width="0.18"  font-weight="bold">10000</text>
<text x="330.5" y="104.57" font-size="8.2" text-anchor="end" font-family="Liberation Sans, sans-serif" stroke="#000" stroke-width="0.18"  font-weight="bold">15000</text>
<text x="330.5" y="83.73" font-size="8.2" text-anchor="end" font-family="Liberation Sans, sans-serif" stroke="#000" stroke-width="0.18"  font-weight="bold">20000</text>
<text x="330.5" y="62.89" font-size="8.2" text-anchor="end" font-family="Liberation Sans, sans-serif" stroke="#000" stroke-width="0.18"  font-weight="bold">25000</text>
<text x="330.5" y="42.04" font-size="8.2" text-anchor="end" font-family="Liberation Sans, sans-serif" stroke="#000" stroke-width="0.18"  font-weight="bold">30000</text>
<text x="330.5" y="21.2" font-size="8.2" text-anchor="end" font-family="Liberation Sans, sans-serif" stroke="#000" stroke-width="0.18"  font-weight="bold">35000</text>
<path d="M331.1 164.1H334.7M331.1 143.26H334.7M331.1 122.41H334.7M331.1 101.57H334.7M331.1 80.73H334.7M331.1 59.89H334.7M331.1 39.04H334.7M331.1 18.2H334.7" stroke="#000" stroke-width="1.3" fill="none"/>
<path d="M362.5 145.2V142.5" stroke="#333" stroke-width="1"/>
<path d="M353.3 142.5H371.7" stroke="#333" stroke-width="1"/>
<rect x="344.2" y="145.2" width="37.1" height="18.9" fill="#18c418" stroke="#118811" stroke-width="0.6"/>
<text x="363.1" y="174.6" font-size="8.3" text-anchor="middle" font-family="Liberation Sans, sans-serif" stroke="#000" stroke-width="0.18"  font-weight="bold">V-S</text>
<path d="M417.5 150V148.5" stroke="#333" stroke-width="1"/>
<path d="M408.3 148.5H426.7" stroke="#333" stroke-width="1"/>
<rect x="399" y="150" width="37.2" height="14.1" fill="#000000" stroke="#000" stroke-width="0.6"/>
<text x="415.1" y="174.6" font-size="8.3" text-anchor="middle" font-family="Liberation Sans, sans-serif" stroke="#000" stroke-width="0.18"  font-weight="bold">K-S</text>
<path d="M472.5 98.2V86.5" stroke="#333" stroke-width="1"/>
<path d="M463.3 86.5H481.7" stroke="#333" stroke-width="1"/>
<rect x="453.6" y="98.2" width="37" height="65.9" fill="#a20000" stroke="#600000" stroke-width="0.6"/>
<text x="467" y="174.6" font-size="8.3" text-anchor="middle" font-family="Liberation Sans, sans-serif" stroke="#000" stroke-width="0.18"  font-weight="bold">V-A</text>
<path d="M527.5 43.1V20.5" stroke="#333" stroke-width="1"/>
<path d="M518.3 20.5H536.7" stroke="#333" stroke-width="1"/>
<rect x="508.4" y="43.1" width="37.2" height="121" fill="#e9a431" stroke="#a87020" stroke-width="0.6"/>
<text x="523.6" y="174.6" font-size="8.3" text-anchor="middle" font-family="Liberation Sans, sans-serif" stroke="#000" stroke-width="0.18"  font-weight="bold">K-A</text>
<text transform="translate(301.6 91.15) rotate(-90)" font-size="8.5" text-anchor="middle" font-weight="bold" font-family="Liberation Sans, sans-serif" stroke="#000" stroke-width="0.18">VA AUC</text>
<text x="293.8" y="18.1" font-size="10" text-anchor="start" font-family="Liberation Sans, sans-serif" stroke="#000" stroke-width="0.18"  font-weight="bold">B</text>
<rect x="342.3" y="23.9" width="9.8" height="6.2" fill="#18c418" stroke="#118811" stroke-width="0.5"/>
<text x="357.6" y="30.1" font-size="8.5" text-anchor="start" font-family="Liberation Sans, sans-serif" stroke="#000" stroke-width="0.18"  font-weight="bold">V-S</text>
<rect x="342.3" y="31.9" width="9.8" height="6.2" fill="#000000" stroke="#000" stroke-width="0.5"/>
<text x="357.6" y="38.1" font-size="8.5" text-anchor="start" font-family="Liberation Sans, sans-serif" stroke="#000" stroke-width="0.18"  font-weight="bold">K-S</text>
<rect x="342.3" y="39.9" width="9.8" height="6.2" fill="#a20000" stroke="#600000" stroke-width="0.5"/>
<text x="357.6" y="46.1" font-size="8.5" text-anchor="start" font-family="Liberation Sans, sans-serif" stroke="#000" stroke-width="0.18"  font-weight="bold">V-A</text>
<rect x="342.3" y="47.9" width="9.8" height="6.2" fill="#e9a431" stroke="#a87020" stroke-width="0.5"/>
<text x="357.6" y="54.1" font-size="8.5" text-anchor="start" font-family="Liberation Sans, sans-serif" stroke="#000" stroke-width="0.18"  font-weight="bold">K-A</text>
<text x="470.6" y="78" font-size="6.5" text-anchor="middle" font-family="Liberation Sans, sans-serif" stroke="#000" stroke-width="0.18"  font-weight="bold">*</text>
<text x="527.2" y="6.5" font-size="7.6" text-anchor="middle" font-family="Liberation Sans, sans-serif" stroke="#000" stroke-width="0.18"  font-weight="bold">$$</text>
<text x="527.2" y="14.6" font-size="8.4" text-anchor="middle" font-weight="bold" textLength="12" lengthAdjust="spacingAndGlyphs" font-family="Liberation Sans, sans-serif" stroke="#000" stroke-width="0.18">###</text>
<path d="M334.6 209.2V359.15" stroke="#000" stroke-width="1.5" fill="none"/>
<path d="M333.85 358.4H557.3" stroke="#000" stroke-width="1.5" fill="none"/>
<text x="330.4" y="361.4" font-size="8.7" text-anchor="end" font-family="Liberation Sans, sans-serif" stroke="#000" stroke-width="0.18"  font-weight="bold">0</text>
<text x="330.4" y="331.66" font-size="8.7" text-anchor="end" font-family="Liberation Sans, sans-serif" stroke="#000" stroke-width="0.18"  font-weight="bold">50000</text>
<text x="330.4" y="301.92" font-size="8.7" text-anchor="end" font-family="Liberation Sans, sans-serif" stroke="#000" stroke-width="0.18"  font-weight="bold">100000</text>
<text x="330.4" y="272.18" font-size="8.7" text-anchor="end" font-family="Liberation Sans, sans-serif" stroke="#000" stroke-width="0.18"  font-weight="bold">150000</text>
<text x="330.4" y="242.44" font-size="8.7" text-anchor="end" font-family="Liberation Sans, sans-serif" stroke="#000" stroke-width="0.18"  font-weight="bold">200000</text>
<text x="330.4" y="212.7" font-size="8.7" text-anchor="end" font-family="Liberation Sans, sans-serif" stroke="#000" stroke-width="0.18"  font-weight="bold">250000</text>
<path d="M331 358.4H334.6M331 328.66H334.6M331 298.92H334.6M331 269.18H334.6M331 239.44H334.6M331 209.7H334.6" stroke="#000" stroke-width="1.3" fill="none"/>
<path d="M362.5 333.8V328.5" stroke="#333" stroke-width="1"/>
<path d="M353.3 328.5H371.7" stroke="#333" stroke-width="1"/>
<rect x="344" y="333.8" width="37" height="24.6" fill="#18c418" stroke="#118811" stroke-width="0.6"/>
<text x="360.9" y="369.3" font-size="8.3" text-anchor="middle" font-family="Liberation Sans, sans-serif" stroke="#000" stroke-width="0.18"  font-weight="bold">V-S</text>
<path d="M417.5 343.1V339.5" stroke="#333" stroke-width="1"/>
<path d="M408.3 339.5H426.7" stroke="#333" stroke-width="1"/>
<rect x="399" y="343.1" width="37.5" height="15.3" fill="#000000" stroke="#000" stroke-width="0.6"/>
<text x="415.2" y="369.3" font-size="8.3" text-anchor="middle" font-family="Liberation Sans, sans-serif" stroke="#000" stroke-width="0.18"  font-weight="bold">K-S</text>
<path d="M473.5 262V238.5" stroke="#333" stroke-width="1"/>
<path d="M464.3 238.5H482.7" stroke="#333" stroke-width="1"/>
<rect x="454.6" y="262" width="37.2" height="96.4" fill="#a20000" stroke="#600000" stroke-width="0.6"/>
<text x="469.7" y="369.3" font-size="8.3" text-anchor="middle" font-family="Liberation Sans, sans-serif" stroke="#000" stroke-width="0.18"  font-weight="bold">V-A</text>
<path d="M528.5 247.2V228.5" stroke="#333" stroke-width="1"/>
<path d="M519.3 228.5H537.7" stroke="#333" stroke-width="1"/>
<rect x="510.2" y="247.2" width="36.8" height="111.2" fill="#e9a431" stroke="#a87020" stroke-width="0.6"/>
<text x="528.6" y="369.3" font-size="8.3" text-anchor="middle" font-family="Liberation Sans, sans-serif" stroke="#000" stroke-width="0.18"  font-weight="bold">K-A</text>
<text transform="translate(295.4 284.05) rotate(-90)" font-size="8.8" text-anchor="middle" font-weight="bold" font-family="Liberation Sans, sans-serif" stroke="#000" stroke-width="0.18">TDT AUC</text>
<text x="293" y="200.8" font-size="10" text-anchor="start" font-family="Liberation Sans, sans-serif" stroke="#000" stroke-width="0.18"  font-weight="bold">D</text>
<rect x="342.3" y="215.3" width="9.8" height="6.8" fill="#18c418" stroke="#118811" stroke-width="0.5"/>
<text x="357.6" y="221.5" font-size="8.7" text-anchor="start" font-family="Liberation Sans, sans-serif" stroke="#000" stroke-width="0.18"  font-weight="bold">V-S</text>
<rect x="342.3" y="223.4" width="9.8" height="6.8" fill="#000000" stroke="#000" stroke-width="0.5"/>
<text x="357.6" y="229.6" font-size="8.7" text-anchor="start" font-family="Liberation Sans, sans-serif" stroke="#000" stroke-width="0.18"  font-weight="bold">K-S</text>
<rect x="342.3" y="231.2" width="9.8" height="6.8" fill="#a20000" stroke="#600000" stroke-width="0.5"/>
<text x="357.6" y="237.4" font-size="8.7" text-anchor="start" font-family="Liberation Sans, sans-serif" stroke="#000" stroke-width="0.18"  font-weight="bold">V-A</text>
<rect x="342.3" y="239.3" width="9.8" height="6.8" fill="#e9a431" stroke="#a87020" stroke-width="0.5"/>
<text x="357.6" y="245.5" font-size="8.7" text-anchor="start" font-family="Liberation Sans, sans-serif" stroke="#000" stroke-width="0.18"  font-weight="bold">K-A</text>
<path d="M472.8 224.3H528.2" stroke="#222" stroke-width="1"/>
<text x="498.7" y="217.2" font-size="7.9" text-anchor="middle" font-family="Liberation Sans, sans-serif" stroke="#000" stroke-width="0.18"  font-weight="bold">@@@</text>
</svg></body></html>
